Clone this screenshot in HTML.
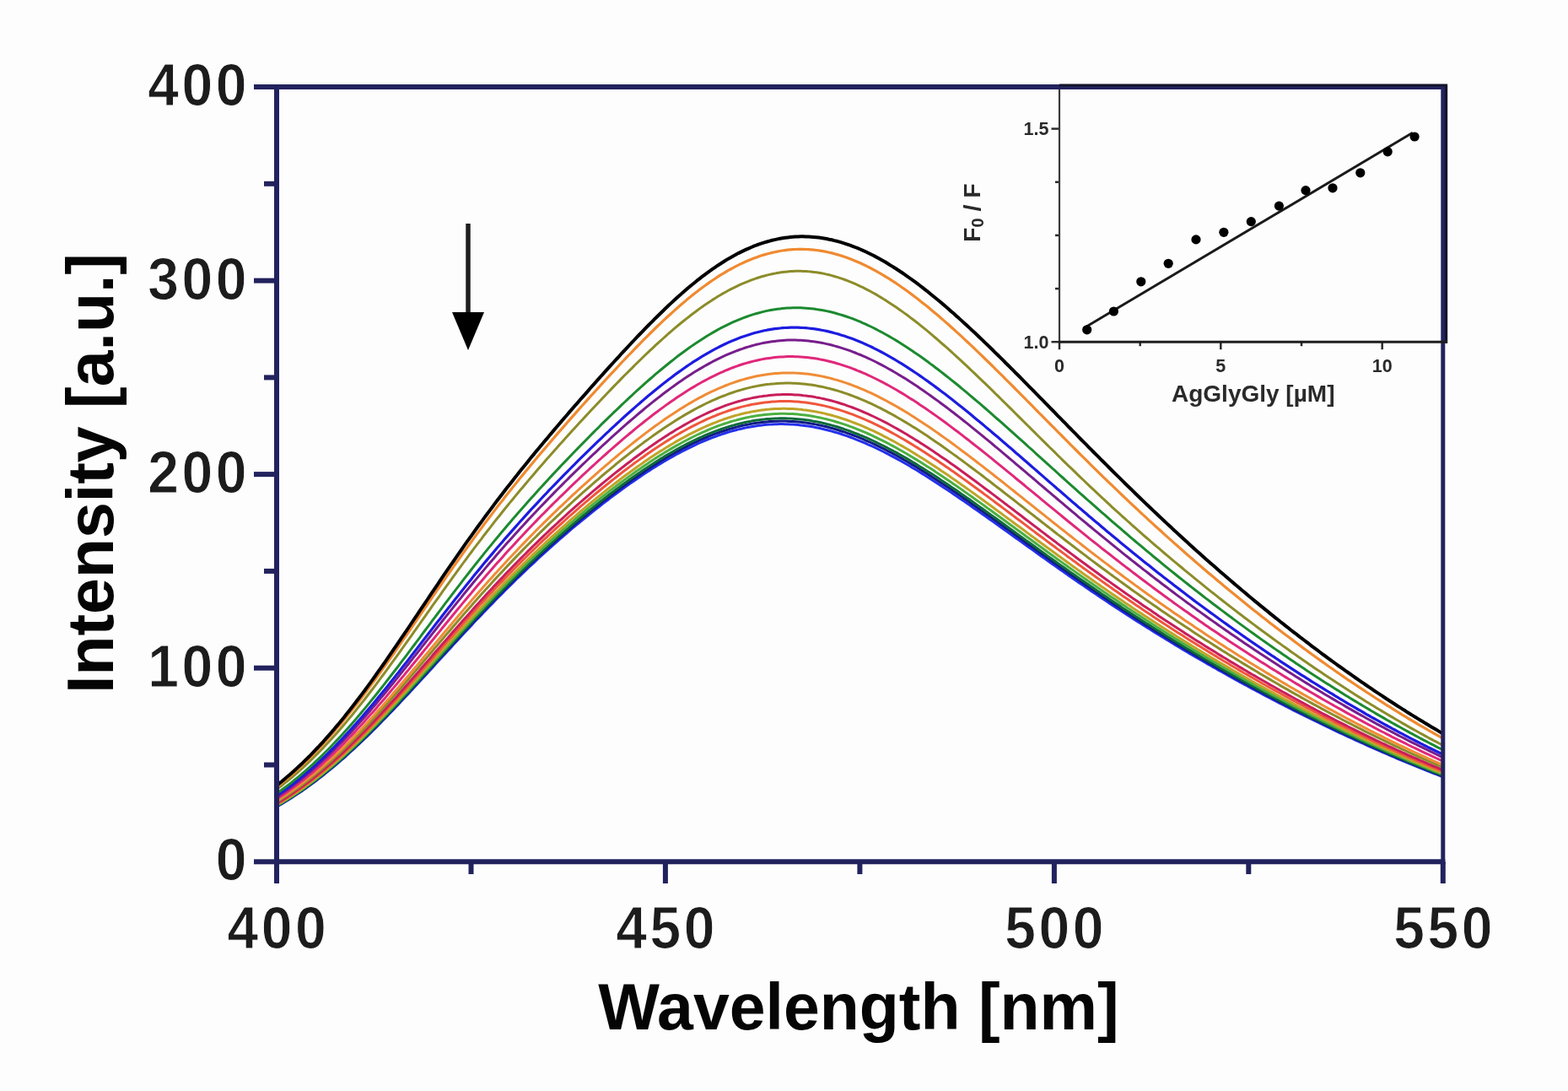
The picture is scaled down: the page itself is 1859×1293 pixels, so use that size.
<!DOCTYPE html>
<html><head><meta charset="utf-8"><title>Fluorescence quenching spectra</title>
<style>html,body{margin:0;padding:0;background:#fff;overflow:hidden}svg{display:block}</style>
</head><body>
<svg width="1859" height="1293" viewBox="0 0 1859 1293">
<rect width="1859" height="1293" fill="#fdfdfd"/>
<defs><clipPath id="c"><rect x="328.0" y="103.0" width="1382.8" height="918.3"/></clipPath></defs>
<g clip-path="url(#c)"><polyline points="328.0,956.2 331.1,954.4 334.2,952.6 337.2,950.8 340.3,948.9 343.4,947.0 346.5,945.1 349.5,943.1 352.6,941.0 355.7,939.0 358.8,936.9 361.8,934.7 364.9,932.5 368.0,930.3 371.1,928.1 374.1,925.8 377.2,923.4 380.3,921.1 383.4,918.6 386.4,916.2 389.5,913.7 392.6,911.2 395.7,908.6 398.7,906.0 401.8,903.4 404.9,900.7 408.0,898.0 411.0,895.3 414.1,892.5 417.2,889.7 420.3,886.9 423.3,884.0 426.4,881.1 429.5,878.2 432.6,875.2 435.6,872.3 438.7,869.3 441.8,866.2 444.9,863.2 447.9,860.1 451.0,857.0 454.1,853.8 457.2,850.7 460.2,847.5 463.3,844.3 466.4,841.1 469.5,837.8 472.6,834.6 475.6,831.3 478.7,828.0 481.8,824.8 484.9,821.5 487.9,818.1 491.0,814.8 494.1,811.5 497.2,808.1 500.2,804.8 503.3,801.4 506.4,798.1 509.5,794.7 512.5,791.4 515.6,788.0 518.7,784.6 521.8,781.3 524.8,777.9 527.9,774.6 531.0,771.2 534.1,767.9 537.1,764.5 540.2,761.2 543.3,757.9 546.4,754.5 549.4,751.2 552.5,747.9 555.6,744.6 558.7,741.4 561.7,738.1 564.8,734.8 567.9,731.6 571.0,728.4 574.0,725.1 577.1,721.9 580.2,718.8 583.3,715.6 586.3,712.4 589.4,709.3 592.5,706.2 595.6,703.1 598.6,700.0 601.7,696.9 604.8,693.9 607.9,690.9 611.0,687.8 614.0,684.8 617.1,681.9 620.2,678.9 623.3,676.0 626.3,673.0 629.4,670.1 632.5,667.3 635.6,664.4 638.6,661.5 641.7,658.7 644.8,655.9 647.9,653.1 650.9,650.3 654.0,647.6 657.1,644.9 660.2,642.1 663.2,639.4 666.3,636.8 669.4,634.1 672.5,631.5 675.5,628.8 678.6,626.2 681.7,623.6 684.8,621.1 687.8,618.5 690.9,616.0 694.0,613.5 697.1,611.0 700.1,608.5 703.2,606.0 706.3,603.6 709.4,601.2 712.4,598.8 715.5,596.4 718.6,594.0 721.7,591.7 724.7,589.3 727.8,587.0 730.9,584.7 734.0,582.5 737.0,580.2 740.1,578.0 743.2,575.8 746.3,573.6 749.4,571.5 752.4,569.4 755.5,567.2 758.6,565.2 761.7,563.1 764.7,561.1 767.8,559.0 770.9,557.1 774.0,555.1 777.0,553.2 780.1,551.3 783.2,549.4 786.3,547.5 789.3,545.7 792.4,543.9 795.5,542.2 798.6,540.4 801.6,538.7 804.7,537.1 807.8,535.4 810.9,533.8 813.9,532.3 817.0,530.8 820.1,529.3 823.2,527.8 826.2,526.4 829.3,525.0 832.4,523.6 835.5,522.3 838.5,521.0 841.6,519.8 844.7,518.6 847.8,517.5 850.8,516.3 853.9,515.3 857.0,514.2 860.1,513.2 863.1,512.3 866.2,511.4 869.3,510.5 872.4,509.7 875.4,508.9 878.5,508.2 881.6,507.5 884.7,506.9 887.8,506.3 890.8,505.7 893.9,505.2 897.0,504.7 900.1,504.3 903.1,503.9 906.2,503.6 909.3,503.3 912.4,503.1 915.4,502.9 918.5,502.8 921.6,502.7 924.7,502.6 927.7,502.6 930.8,502.7 933.9,502.8 937.0,502.9 940.0,503.1 943.1,503.3 946.2,503.6 949.3,503.9 952.3,504.3 955.4,504.7 958.5,505.1 961.6,505.6 964.6,506.1 967.7,506.7 970.8,507.3 973.9,508.0 976.9,508.7 980.0,509.5 983.1,510.3 986.2,511.1 989.2,512.0 992.3,512.9 995.4,513.8 998.5,514.8 1001.5,515.9 1004.6,516.9 1007.7,518.0 1010.8,519.2 1013.8,520.3 1016.9,521.6 1020.0,522.8 1023.1,524.1 1026.2,525.4 1029.2,526.8 1032.3,528.1 1035.4,529.5 1038.5,531.0 1041.5,532.5 1044.6,534.0 1047.7,535.5 1050.8,537.1 1053.8,538.7 1056.9,540.3 1060.0,541.9 1063.1,543.6 1066.1,545.3 1069.2,547.0 1072.3,548.8 1075.4,550.5 1078.4,552.3 1081.5,554.2 1084.6,556.0 1087.7,557.8 1090.7,559.7 1093.8,561.6 1096.9,563.5 1100.0,565.5 1103.0,567.4 1106.1,569.4 1109.2,571.4 1112.3,573.4 1115.3,575.4 1118.4,577.4 1121.5,579.5 1124.6,581.5 1127.6,583.6 1130.7,585.7 1133.8,587.8 1136.9,589.9 1139.9,592.0 1143.0,594.1 1146.1,596.2 1149.2,598.4 1152.2,600.5 1155.3,602.7 1158.4,604.8 1161.5,607.0 1164.6,609.2 1167.6,611.3 1170.7,613.5 1173.8,615.7 1176.9,617.9 1179.9,620.1 1183.0,622.3 1186.1,624.5 1189.2,626.7 1192.2,628.9 1195.3,631.1 1198.4,633.3 1201.5,635.5 1204.5,637.7 1207.6,639.9 1210.7,642.1 1213.8,644.3 1216.8,646.5 1219.9,648.7 1223.0,650.9 1226.1,653.1 1229.1,655.3 1232.2,657.5 1235.3,659.7 1238.4,661.9 1241.4,664.1 1244.5,666.3 1247.6,668.4 1250.7,670.6 1253.7,672.8 1256.8,674.9 1259.9,677.1 1263.0,679.2 1266.0,681.4 1269.1,683.5 1272.2,685.7 1275.3,687.8 1278.3,689.9 1281.4,692.0 1284.5,694.1 1287.6,696.2 1290.6,698.3 1293.7,700.4 1296.8,702.5 1299.9,704.6 1303.0,706.7 1306.0,708.7 1309.1,710.8 1312.2,712.8 1315.3,714.9 1318.3,716.9 1321.4,718.9 1324.5,721.0 1327.6,723.0 1330.6,725.0 1333.7,727.0 1336.8,729.0 1339.9,731.0 1342.9,732.9 1346.0,734.9 1349.1,736.9 1352.2,738.8 1355.2,740.8 1358.3,742.7 1361.4,744.6 1364.5,746.6 1367.5,748.5 1370.6,750.4 1373.7,752.3 1376.8,754.2 1379.8,756.1 1382.9,758.0 1386.0,759.8 1389.1,761.7 1392.1,763.6 1395.2,765.4 1398.3,767.2 1401.4,769.1 1404.4,770.9 1407.5,772.7 1410.6,774.6 1413.7,776.4 1416.7,778.2 1419.8,780.0 1422.9,781.7 1426.0,783.5 1429.0,785.3 1432.1,787.1 1435.2,788.8 1438.3,790.6 1441.4,792.3 1444.4,794.1 1447.5,795.8 1450.6,797.5 1453.7,799.2 1456.7,801.0 1459.8,802.7 1462.9,804.4 1466.0,806.1 1469.0,807.8 1472.1,809.4 1475.2,811.1 1478.3,812.8 1481.3,814.4 1484.4,816.1 1487.5,817.7 1490.6,819.4 1493.6,821.0 1496.7,822.7 1499.8,824.3 1502.9,825.9 1505.9,827.5 1509.0,829.1 1512.1,830.7 1515.2,832.3 1518.2,833.9 1521.3,835.5 1524.4,837.1 1527.5,838.6 1530.5,840.2 1533.6,841.8 1536.7,843.3 1539.8,844.9 1542.8,846.4 1545.9,847.9 1549.0,849.5 1552.1,851.0 1555.1,852.5 1558.2,854.0 1561.3,855.5 1564.4,857.0 1567.4,858.5 1570.5,860.0 1573.6,861.5 1576.7,862.9 1579.8,864.4 1582.8,865.9 1585.9,867.3 1589.0,868.8 1592.1,870.2 1595.1,871.7 1598.2,873.1 1601.3,874.5 1604.4,875.9 1607.4,877.3 1610.5,878.7 1613.6,880.1 1616.7,881.5 1619.7,882.9 1622.8,884.3 1625.9,885.7 1629.0,887.0 1632.0,888.4 1635.1,889.7 1638.2,891.1 1641.3,892.4 1644.3,893.7 1647.4,895.1 1650.5,896.4 1653.6,897.7 1656.6,899.0 1659.7,900.3 1662.8,901.6 1665.9,902.8 1668.9,904.1 1672.0,905.4 1675.1,906.6 1678.2,907.9 1681.2,909.1 1684.3,910.4 1687.4,911.6 1690.5,912.8 1693.5,914.1 1696.6,915.3 1699.7,916.5 1702.8,917.7 1705.8,918.8 1708.9,920.0 1712.0,921.2" fill="none" stroke="#2430ec" stroke-width="3.0" stroke-linejoin="round"/><polyline points="328.0,955.8 331.1,954.0 334.2,952.2 337.2,950.4 340.3,948.5 343.4,946.6 346.5,944.6 349.5,942.6 352.6,940.6 355.7,938.5 358.8,936.4 361.8,934.2 364.9,932.0 368.0,929.8 371.1,927.5 374.1,925.2 377.2,922.8 380.3,920.4 383.4,918.0 386.4,915.5 389.5,913.0 392.6,910.5 395.7,907.9 398.7,905.3 401.8,902.7 404.9,900.0 408.0,897.3 411.0,894.5 414.1,891.7 417.2,888.9 420.3,886.0 423.3,883.2 426.4,880.2 429.5,877.3 432.6,874.3 435.6,871.3 438.7,868.3 441.8,865.2 444.9,862.2 447.9,859.0 451.0,855.9 454.1,852.8 457.2,849.6 460.2,846.4 463.3,843.2 466.4,839.9 469.5,836.7 472.6,833.4 475.6,830.1 478.7,826.8 481.8,823.5 484.9,820.2 487.9,816.9 491.0,813.5 494.1,810.2 497.2,806.8 500.2,803.4 503.3,800.1 506.4,796.7 509.5,793.3 512.5,789.9 515.6,786.5 518.7,783.2 521.8,779.8 524.8,776.4 527.9,773.0 531.0,769.7 534.1,766.3 537.1,762.9 540.2,759.6 543.3,756.2 546.4,752.9 549.4,749.6 552.5,746.3 555.6,742.9 558.7,739.7 561.7,736.4 564.8,733.1 567.9,729.8 571.0,726.6 574.0,723.4 577.1,720.2 580.2,717.0 583.3,713.8 586.3,710.6 589.4,707.5 592.5,704.3 595.6,701.2 598.6,698.1 601.7,695.0 604.8,692.0 607.9,688.9 611.0,685.9 614.0,682.9 617.1,679.9 620.2,676.9 623.3,674.0 626.3,671.0 629.4,668.1 632.5,665.2 635.6,662.3 638.6,659.5 641.7,656.6 644.8,653.8 647.9,651.0 650.9,648.2 654.0,645.4 657.1,642.7 660.2,640.0 663.2,637.2 666.3,634.6 669.4,631.9 672.5,629.2 675.5,626.6 678.6,624.0 681.7,621.3 684.8,618.8 687.8,616.2 690.9,613.6 694.0,611.1 697.1,608.6 700.1,606.1 703.2,603.6 706.3,601.2 709.4,598.7 712.4,596.3 715.5,593.9 718.6,591.5 721.7,589.2 724.7,586.8 727.8,584.5 730.9,582.2 734.0,579.9 737.0,577.7 740.1,575.4 743.2,573.2 746.3,571.0 749.4,568.8 752.4,566.7 755.5,564.6 758.6,562.5 761.7,560.4 764.7,558.3 767.8,556.3 770.9,554.3 774.0,552.3 777.0,550.4 780.1,548.4 783.2,546.5 786.3,544.7 789.3,542.8 792.4,541.0 795.5,539.2 798.6,537.5 801.6,535.8 804.7,534.1 807.8,532.5 810.9,530.8 813.9,529.3 817.0,527.7 820.1,526.2 823.2,524.7 826.2,523.3 829.3,521.9 832.4,520.5 835.5,519.2 838.5,517.9 841.6,516.6 844.7,515.4 847.8,514.2 850.8,513.1 853.9,512.0 857.0,511.0 860.1,510.0 863.1,509.0 866.2,508.1 869.3,507.2 872.4,506.4 875.4,505.6 878.5,504.8 881.6,504.1 884.7,503.5 887.8,502.9 890.8,502.3 893.9,501.8 897.0,501.3 900.1,500.9 903.1,500.5 906.2,500.2 909.3,499.9 912.4,499.6 915.4,499.4 918.5,499.3 921.6,499.2 924.7,499.1 927.7,499.1 930.8,499.1 933.9,499.2 937.0,499.4 940.0,499.5 943.1,499.7 946.2,500.0 949.3,500.3 952.3,500.7 955.4,501.1 958.5,501.5 961.6,502.0 964.6,502.5 967.7,503.1 970.8,503.7 973.9,504.4 976.9,505.1 980.0,505.8 983.1,506.6 986.2,507.5 989.2,508.3 992.3,509.2 995.4,510.2 998.5,511.2 1001.5,512.2 1004.6,513.3 1007.7,514.4 1010.8,515.5 1013.8,516.7 1016.9,517.9 1020.0,519.2 1023.1,520.4 1026.2,521.8 1029.2,523.1 1032.3,524.5 1035.4,525.9 1038.5,527.4 1041.5,528.8 1044.6,530.4 1047.7,531.9 1050.8,533.5 1053.8,535.1 1056.9,536.7 1060.0,538.3 1063.1,540.0 1066.1,541.7 1069.2,543.4 1072.3,545.2 1075.4,547.0 1078.4,548.8 1081.5,550.6 1084.6,552.4 1087.7,554.3 1090.7,556.2 1093.8,558.1 1096.9,560.0 1100.0,562.0 1103.0,563.9 1106.1,565.9 1109.2,567.9 1112.3,569.9 1115.3,571.9 1118.4,574.0 1121.5,576.0 1124.6,578.1 1127.6,580.1 1130.7,582.2 1133.8,584.3 1136.9,586.4 1139.9,588.6 1143.0,590.7 1146.1,592.8 1149.2,595.0 1152.2,597.2 1155.3,599.3 1158.4,601.5 1161.5,603.7 1164.6,605.9 1167.6,608.0 1170.7,610.2 1173.8,612.4 1176.9,614.6 1179.9,616.8 1183.0,619.1 1186.1,621.3 1189.2,623.5 1192.2,625.7 1195.3,627.9 1198.4,630.1 1201.5,632.4 1204.5,634.6 1207.6,636.8 1210.7,639.0 1213.8,641.2 1216.8,643.5 1219.9,645.7 1223.0,647.9 1226.1,650.1 1229.1,652.3 1232.2,654.5 1235.3,656.7 1238.4,658.9 1241.4,661.1 1244.5,663.3 1247.6,665.5 1250.7,667.7 1253.7,669.9 1256.8,672.1 1259.9,674.2 1263.0,676.4 1266.0,678.6 1269.1,680.7 1272.2,682.9 1275.3,685.0 1278.3,687.1 1281.4,689.3 1284.5,691.4 1287.6,693.5 1290.6,695.6 1293.7,697.7 1296.8,699.8 1299.9,701.9 1303.0,704.0 1306.0,706.1 1309.1,708.2 1312.2,710.2 1315.3,712.3 1318.3,714.4 1321.4,716.4 1324.5,718.4 1327.6,720.5 1330.6,722.5 1333.7,724.5 1336.8,726.5 1339.9,728.5 1342.9,730.5 1346.0,732.5 1349.1,734.5 1352.2,736.4 1355.2,738.4 1358.3,740.4 1361.4,742.3 1364.5,744.3 1367.5,746.2 1370.6,748.1 1373.7,750.0 1376.8,751.9 1379.8,753.8 1382.9,755.7 1386.0,757.6 1389.1,759.5 1392.1,761.4 1395.2,763.3 1398.3,765.1 1401.4,767.0 1404.4,768.8 1407.5,770.7 1410.6,772.5 1413.7,774.3 1416.7,776.1 1419.8,777.9 1422.9,779.7 1426.0,781.5 1429.0,783.3 1432.1,785.1 1435.2,786.9 1438.3,788.7 1441.4,790.4 1444.4,792.2 1447.5,793.9 1450.6,795.7 1453.7,797.4 1456.7,799.1 1459.8,800.8 1462.9,802.6 1466.0,804.3 1469.0,806.0 1472.1,807.7 1475.2,809.4 1478.3,811.0 1481.3,812.7 1484.4,814.4 1487.5,816.1 1490.6,817.7 1493.6,819.4 1496.7,821.0 1499.8,822.7 1502.9,824.3 1505.9,825.9 1509.0,827.5 1512.1,829.2 1515.2,830.8 1518.2,832.4 1521.3,834.0 1524.4,835.5 1527.5,837.1 1530.5,838.7 1533.6,840.3 1536.7,841.8 1539.8,843.4 1542.8,845.0 1545.9,846.5 1549.0,848.1 1552.1,849.6 1555.1,851.1 1558.2,852.6 1561.3,854.2 1564.4,855.7 1567.4,857.2 1570.5,858.7 1573.6,860.2 1576.7,861.6 1579.8,863.1 1582.8,864.6 1585.9,866.1 1589.0,867.5 1592.1,869.0 1595.1,870.4 1598.2,871.9 1601.3,873.3 1604.4,874.7 1607.4,876.1 1610.5,877.6 1613.6,879.0 1616.7,880.4 1619.7,881.8 1622.8,883.2 1625.9,884.5 1629.0,885.9 1632.0,887.3 1635.1,888.6 1638.2,890.0 1641.3,891.3 1644.3,892.7 1647.4,894.0 1650.5,895.3 1653.6,896.7 1656.6,898.0 1659.7,899.3 1662.8,900.6 1665.9,901.9 1668.9,903.2 1672.0,904.4 1675.1,905.7 1678.2,907.0 1681.2,908.2 1684.3,909.5 1687.4,910.7 1690.5,911.9 1693.5,913.2 1696.6,914.4 1699.7,915.6 1702.8,916.8 1705.8,918.0 1708.9,919.2 1712.0,920.4" fill="none" stroke="#101a88" stroke-width="3.0" stroke-linejoin="round"/><polyline points="328.0,955.4 331.1,953.6 334.2,951.8 337.2,950.0 340.3,948.1 343.4,946.1 346.5,944.1 349.5,942.1 352.6,940.1 355.7,938.0 358.8,935.9 361.8,933.7 364.9,931.5 368.0,929.2 371.1,926.9 374.1,924.6 377.2,922.3 380.3,919.9 383.4,917.4 386.4,914.9 389.5,912.4 392.6,909.9 395.7,907.3 398.7,904.6 401.8,902.0 404.9,899.3 408.0,896.5 411.0,893.8 414.1,891.0 417.2,888.1 420.3,885.3 423.3,882.4 426.4,879.4 429.5,876.5 432.6,873.5 435.6,870.4 438.7,867.4 441.8,864.3 444.9,861.2 447.9,858.1 451.0,854.9 454.1,851.8 457.2,848.6 460.2,845.4 463.3,842.1 466.4,838.9 469.5,835.6 472.6,832.3 475.6,829.0 478.7,825.7 481.8,822.4 484.9,819.0 487.9,815.7 491.0,812.3 494.1,808.9 497.2,805.6 500.2,802.2 503.3,798.8 506.4,795.4 509.5,792.0 512.5,788.6 515.6,785.2 518.7,781.8 521.8,778.4 524.8,775.0 527.9,771.6 531.0,768.2 534.1,764.8 537.1,761.5 540.2,758.1 543.3,754.7 546.4,751.4 549.4,748.0 552.5,744.7 555.6,741.4 558.7,738.1 561.7,734.8 564.8,731.5 567.9,728.2 571.0,724.9 574.0,721.7 577.1,718.5 580.2,715.3 583.3,712.1 586.3,708.9 589.4,705.7 592.5,702.6 595.6,699.4 598.6,696.3 601.7,693.2 604.8,690.1 607.9,687.1 611.0,684.0 614.0,681.0 617.1,678.0 620.2,675.0 623.3,672.1 626.3,669.1 629.4,666.2 632.5,663.3 635.6,660.4 638.6,657.5 641.7,654.7 644.8,651.8 647.9,649.0 650.9,646.2 654.0,643.4 657.1,640.7 660.2,637.9 663.2,635.2 666.3,632.5 669.4,629.8 672.5,627.1 675.5,624.5 678.6,621.8 681.7,619.2 684.8,616.6 687.8,614.0 690.9,611.5 694.0,608.9 697.1,606.4 700.1,603.9 703.2,601.4 706.3,598.9 709.4,596.5 712.4,594.0 715.5,591.6 718.6,589.2 721.7,586.8 724.7,584.5 727.8,582.1 730.9,579.8 734.0,577.5 737.0,575.2 740.1,573.0 743.2,570.7 746.3,568.5 749.4,566.3 752.4,564.2 755.5,562.0 758.6,559.9 761.7,557.8 764.7,555.7 767.8,553.7 770.9,551.7 774.0,549.7 777.0,547.7 780.1,545.8 783.2,543.9 786.3,542.0 789.3,540.1 792.4,538.3 795.5,536.5 798.6,534.7 801.6,533.0 804.7,531.3 807.8,529.6 810.9,528.0 813.9,526.4 817.0,524.8 820.1,523.3 823.2,521.8 826.2,520.4 829.3,518.9 832.4,517.6 835.5,516.2 838.5,514.9 841.6,513.6 844.7,512.4 847.8,511.2 850.8,510.1 853.9,509.0 857.0,507.9 860.1,506.9 863.1,505.9 866.2,505.0 869.3,504.1 872.4,503.3 875.4,502.5 878.5,501.7 881.6,501.0 884.7,500.3 887.8,499.7 890.8,499.1 893.9,498.6 897.0,498.1 900.1,497.7 903.1,497.3 906.2,496.9 909.3,496.6 912.4,496.4 915.4,496.2 918.5,496.0 921.6,495.9 924.7,495.8 927.7,495.8 930.8,495.8 933.9,495.9 937.0,496.0 940.0,496.2 943.1,496.4 946.2,496.7 949.3,497.0 952.3,497.3 955.4,497.7 958.5,498.1 961.6,498.6 964.6,499.2 967.7,499.7 970.8,500.3 973.9,501.0 976.9,501.7 980.0,502.5 983.1,503.2 986.2,504.1 989.2,504.9 992.3,505.8 995.4,506.8 998.5,507.8 1001.5,508.8 1004.6,509.9 1007.7,511.0 1010.8,512.1 1013.8,513.3 1016.9,514.5 1020.0,515.8 1023.1,517.0 1026.2,518.4 1029.2,519.7 1032.3,521.1 1035.4,522.5 1038.5,524.0 1041.5,525.5 1044.6,527.0 1047.7,528.5 1050.8,530.1 1053.8,531.7 1056.9,533.3 1060.0,535.0 1063.1,536.6 1066.1,538.4 1069.2,540.1 1072.3,541.8 1075.4,543.6 1078.4,545.4 1081.5,547.3 1084.6,549.1 1087.7,551.0 1090.7,552.9 1093.8,554.8 1096.9,556.7 1100.0,558.7 1103.0,560.6 1106.1,562.6 1109.2,564.6 1112.3,566.6 1115.3,568.7 1118.4,570.7 1121.5,572.8 1124.6,574.8 1127.6,576.9 1130.7,579.0 1133.8,581.1 1136.9,583.3 1139.9,585.4 1143.0,587.5 1146.1,589.7 1149.2,591.8 1152.2,594.0 1155.3,596.2 1158.4,598.4 1161.5,600.6 1164.6,602.8 1167.6,605.0 1170.7,607.2 1173.8,609.4 1176.9,611.6 1179.9,613.8 1183.0,616.0 1186.1,618.3 1189.2,620.5 1192.2,622.7 1195.3,625.0 1198.4,627.2 1201.5,629.4 1204.5,631.7 1207.6,633.9 1210.7,636.1 1213.8,638.4 1216.8,640.6 1219.9,642.8 1223.0,645.0 1226.1,647.3 1229.1,649.5 1232.2,651.7 1235.3,653.9 1238.4,656.1 1241.4,658.4 1244.5,660.6 1247.6,662.8 1250.7,665.0 1253.7,667.2 1256.8,669.4 1259.9,671.5 1263.0,673.7 1266.0,675.9 1269.1,678.1 1272.2,680.2 1275.3,682.4 1278.3,684.6 1281.4,686.7 1284.5,688.8 1287.6,691.0 1290.6,693.1 1293.7,695.2 1296.8,697.3 1299.9,699.5 1303.0,701.6 1306.0,703.7 1309.1,705.7 1312.2,707.8 1315.3,709.9 1318.3,712.0 1321.4,714.0 1324.5,716.1 1327.6,718.1 1330.6,720.2 1333.7,722.2 1336.8,724.2 1339.9,726.2 1342.9,728.2 1346.0,730.2 1349.1,732.2 1352.2,734.2 1355.2,736.2 1358.3,738.2 1361.4,740.1 1364.5,742.1 1367.5,744.0 1370.6,746.0 1373.7,747.9 1376.8,749.8 1379.8,751.8 1382.9,753.7 1386.0,755.6 1389.1,757.5 1392.1,759.4 1395.2,761.2 1398.3,763.1 1401.4,765.0 1404.4,766.8 1407.5,768.7 1410.6,770.5 1413.7,772.4 1416.7,774.2 1419.8,776.0 1422.9,777.9 1426.0,779.7 1429.0,781.5 1432.1,783.3 1435.2,785.1 1438.3,786.8 1441.4,788.6 1444.4,790.4 1447.5,792.2 1450.6,793.9 1453.7,795.7 1456.7,797.4 1459.8,799.1 1462.9,800.9 1466.0,802.6 1469.0,804.3 1472.1,806.0 1475.2,807.7 1478.3,809.4 1481.3,811.1 1484.4,812.8 1487.5,814.5 1490.6,816.1 1493.6,817.8 1496.7,819.5 1499.8,821.1 1502.9,822.8 1505.9,824.4 1509.0,826.0 1512.1,827.7 1515.2,829.3 1518.2,830.9 1521.3,832.5 1524.4,834.1 1527.5,835.7 1530.5,837.3 1533.6,838.9 1536.7,840.5 1539.8,842.0 1542.8,843.6 1545.9,845.2 1549.0,846.7 1552.1,848.3 1555.1,849.8 1558.2,851.3 1561.3,852.9 1564.4,854.4 1567.4,855.9 1570.5,857.4 1573.6,858.9 1576.7,860.4 1579.8,861.9 1582.8,863.4 1585.9,864.9 1589.0,866.3 1592.1,867.8 1595.1,869.3 1598.2,870.7 1601.3,872.2 1604.4,873.6 1607.4,875.0 1610.5,876.5 1613.6,877.9 1616.7,879.3 1619.7,880.7 1622.8,882.1 1625.9,883.5 1629.0,884.9 1632.0,886.3 1635.1,887.6 1638.2,889.0 1641.3,890.4 1644.3,891.7 1647.4,893.1 1650.5,894.4 1653.6,895.7 1656.6,897.0 1659.7,898.4 1662.8,899.7 1665.9,901.0 1668.9,902.3 1672.0,903.6 1675.1,904.8 1678.2,906.1 1681.2,907.4 1684.3,908.6 1687.4,909.9 1690.5,911.1 1693.5,912.4 1696.6,913.6 1699.7,914.8 1702.8,916.0 1705.8,917.2 1708.9,918.4 1712.0,919.6" fill="none" stroke="#0e6a3a" stroke-width="3.0" stroke-linejoin="round"/><polyline points="328.0,954.8 331.1,953.0 334.2,951.1 337.2,949.3 340.3,947.4 343.4,945.4 346.5,943.4 349.5,941.4 352.6,939.3 355.7,937.2 358.8,935.0 361.8,932.9 364.9,930.6 368.0,928.4 371.1,926.0 374.1,923.7 377.2,921.3 380.3,918.9 383.4,916.4 386.4,913.9 389.5,911.4 392.6,908.8 395.7,906.2 398.7,903.5 401.8,900.8 404.9,898.1 408.0,895.3 411.0,892.5 414.1,889.7 417.2,886.8 420.3,883.9 423.3,881.0 426.4,878.1 429.5,875.1 432.6,872.0 435.6,869.0 438.7,865.9 441.8,862.8 444.9,859.7 447.9,856.5 451.0,853.3 454.1,850.1 457.2,846.9 460.2,843.7 463.3,840.4 466.4,837.1 469.5,833.8 472.6,830.5 475.6,827.1 478.7,823.8 481.8,820.4 484.9,817.1 487.9,813.7 491.0,810.3 494.1,806.9 497.2,803.5 500.2,800.1 503.3,796.6 506.4,793.2 509.5,789.8 512.5,786.4 515.6,782.9 518.7,779.5 521.8,776.1 524.8,772.6 527.9,769.2 531.0,765.8 534.1,762.4 537.1,759.0 540.2,755.6 543.3,752.2 546.4,748.8 549.4,745.4 552.5,742.1 555.6,738.7 558.7,735.4 561.7,732.1 564.8,728.8 567.9,725.5 571.0,722.2 574.0,718.9 577.1,715.7 580.2,712.4 583.3,709.2 586.3,706.0 589.4,702.8 592.5,699.6 595.6,696.5 598.6,693.4 601.7,690.2 604.8,687.1 607.9,684.1 611.0,681.0 614.0,677.9 617.1,674.9 620.2,671.9 623.3,668.9 626.3,666.0 629.4,663.0 632.5,660.1 635.6,657.2 638.6,654.3 641.7,651.4 644.8,648.5 647.9,645.7 650.9,642.9 654.0,640.1 657.1,637.3 660.2,634.5 663.2,631.8 666.3,629.0 669.4,626.3 672.5,623.6 675.5,620.9 678.6,618.3 681.7,615.6 684.8,613.0 687.8,610.4 690.9,607.8 694.0,605.2 697.1,602.7 700.1,600.2 703.2,597.6 706.3,595.1 709.4,592.7 712.4,590.2 715.5,587.8 718.6,585.3 721.7,582.9 724.7,580.5 727.8,578.2 730.9,575.8 734.0,573.5 737.0,571.2 740.1,568.9 743.2,566.7 746.3,564.4 749.4,562.2 752.4,560.0 755.5,557.8 758.6,555.7 761.7,553.6 764.7,551.5 767.8,549.4 770.9,547.3 774.0,545.3 777.0,543.3 780.1,541.3 783.2,539.4 786.3,537.5 789.3,535.6 792.4,533.8 795.5,531.9 798.6,530.1 801.6,528.4 804.7,526.7 807.8,525.0 810.9,523.3 813.9,521.7 817.0,520.1 820.1,518.5 823.2,517.0 826.2,515.5 829.3,514.1 832.4,512.7 835.5,511.3 838.5,510.0 841.6,508.7 844.7,507.4 847.8,506.2 850.8,505.0 853.9,503.9 857.0,502.8 860.1,501.8 863.1,500.8 866.2,499.8 869.3,498.9 872.4,498.1 875.4,497.2 878.5,496.5 881.6,495.7 884.7,495.0 887.8,494.4 890.8,493.8 893.9,493.2 897.0,492.7 900.1,492.3 903.1,491.9 906.2,491.5 909.3,491.2 912.4,490.9 915.4,490.7 918.5,490.5 921.6,490.4 924.7,490.3 927.7,490.3 930.8,490.3 933.9,490.4 937.0,490.5 940.0,490.6 943.1,490.8 946.2,491.1 949.3,491.4 952.3,491.7 955.4,492.1 958.5,492.5 961.6,493.0 964.6,493.5 967.7,494.1 970.8,494.7 973.9,495.4 976.9,496.1 980.0,496.8 983.1,497.6 986.2,498.4 989.2,499.3 992.3,500.2 995.4,501.1 998.5,502.1 1001.5,503.1 1004.6,504.2 1007.7,505.3 1010.8,506.4 1013.8,507.6 1016.9,508.8 1020.0,510.1 1023.1,511.4 1026.2,512.7 1029.2,514.0 1032.3,515.4 1035.4,516.9 1038.5,518.3 1041.5,519.8 1044.6,521.3 1047.7,522.9 1050.8,524.4 1053.8,526.0 1056.9,527.7 1060.0,529.3 1063.1,531.0 1066.1,532.7 1069.2,534.5 1072.3,536.3 1075.4,538.0 1078.4,539.9 1081.5,541.7 1084.6,543.6 1087.7,545.4 1090.7,547.3 1093.8,549.3 1096.9,551.2 1100.0,553.2 1103.0,555.1 1106.1,557.1 1109.2,559.2 1112.3,561.2 1115.3,563.2 1118.4,565.3 1121.5,567.4 1124.6,569.5 1127.6,571.6 1130.7,573.7 1133.8,575.8 1136.9,577.9 1139.9,580.1 1143.0,582.2 1146.1,584.4 1149.2,586.6 1152.2,588.8 1155.3,591.0 1158.4,593.2 1161.5,595.4 1164.6,597.6 1167.6,599.8 1170.7,602.1 1173.8,604.3 1176.9,606.5 1179.9,608.8 1183.0,611.0 1186.1,613.2 1189.2,615.5 1192.2,617.7 1195.3,620.0 1198.4,622.3 1201.5,624.5 1204.5,626.8 1207.6,629.0 1210.7,631.3 1213.8,633.5 1216.8,635.8 1219.9,638.0 1223.0,640.3 1226.1,642.5 1229.1,644.8 1232.2,647.0 1235.3,649.3 1238.4,651.5 1241.4,653.8 1244.5,656.0 1247.6,658.2 1250.7,660.4 1253.7,662.7 1256.8,664.9 1259.9,667.1 1263.0,669.3 1266.0,671.5 1269.1,673.7 1272.2,675.9 1275.3,678.1 1278.3,680.2 1281.4,682.4 1284.5,684.6 1287.6,686.7 1290.6,688.9 1293.7,691.0 1296.8,693.2 1299.9,695.3 1303.0,697.4 1306.0,699.6 1309.1,701.7 1312.2,703.8 1315.3,705.9 1318.3,708.0 1321.4,710.1 1324.5,712.1 1327.6,714.2 1330.6,716.3 1333.7,718.3 1336.8,720.4 1339.9,722.4 1342.9,724.5 1346.0,726.5 1349.1,728.5 1352.2,730.5 1355.2,732.5 1358.3,734.5 1361.4,736.5 1364.5,738.5 1367.5,740.5 1370.6,742.4 1373.7,744.4 1376.8,746.3 1379.8,748.3 1382.9,750.2 1386.0,752.2 1389.1,754.1 1392.1,756.0 1395.2,757.9 1398.3,759.8 1401.4,761.7 1404.4,763.6 1407.5,765.4 1410.6,767.3 1413.7,769.2 1416.7,771.0 1419.8,772.9 1422.9,774.7 1426.0,776.6 1429.0,778.4 1432.1,780.2 1435.2,782.0 1438.3,783.8 1441.4,785.6 1444.4,787.4 1447.5,789.2 1450.6,791.0 1453.7,792.8 1456.7,794.5 1459.8,796.3 1462.9,798.0 1466.0,799.8 1469.0,801.5 1472.1,803.3 1475.2,805.0 1478.3,806.7 1481.3,808.4 1484.4,810.1 1487.5,811.8 1490.6,813.5 1493.6,815.2 1496.7,816.9 1499.8,818.6 1502.9,820.2 1505.9,821.9 1509.0,823.6 1512.1,825.2 1515.2,826.8 1518.2,828.5 1521.3,830.1 1524.4,831.7 1527.5,833.4 1530.5,835.0 1533.6,836.6 1536.7,838.2 1539.8,839.8 1542.8,841.4 1545.9,842.9 1549.0,844.5 1552.1,846.1 1555.1,847.6 1558.2,849.2 1561.3,850.7 1564.4,852.3 1567.4,853.8 1570.5,855.3 1573.6,856.9 1576.7,858.4 1579.8,859.9 1582.8,861.4 1585.9,862.9 1589.0,864.4 1592.1,865.9 1595.1,867.4 1598.2,868.8 1601.3,870.3 1604.4,871.7 1607.4,873.2 1610.5,874.6 1613.6,876.1 1616.7,877.5 1619.7,878.9 1622.8,880.4 1625.9,881.8 1629.0,883.2 1632.0,884.6 1635.1,886.0 1638.2,887.3 1641.3,888.7 1644.3,890.1 1647.4,891.4 1650.5,892.8 1653.6,894.1 1656.6,895.5 1659.7,896.8 1662.8,898.1 1665.9,899.5 1668.9,900.8 1672.0,902.1 1675.1,903.4 1678.2,904.7 1681.2,905.9 1684.3,907.2 1687.4,908.5 1690.5,909.7 1693.5,911.0 1696.6,912.2 1699.7,913.5 1702.8,914.7 1705.8,915.9 1708.9,917.1 1712.0,918.3" fill="none" stroke="#4cb040" stroke-width="3.0" stroke-linejoin="round"/><polyline points="328.0,954.1 331.1,952.3 334.2,950.4 337.2,948.5 340.3,946.6 343.4,944.6 346.5,942.6 349.5,940.6 352.6,938.5 355.7,936.3 358.8,934.2 361.8,931.9 364.9,929.7 368.0,927.4 371.1,925.1 374.1,922.7 377.2,920.3 380.3,917.8 383.4,915.3 386.4,912.8 389.5,910.2 392.6,907.6 395.7,905.0 398.7,902.3 401.8,899.6 404.9,896.8 408.0,894.0 411.0,891.2 414.1,888.3 417.2,885.5 420.3,882.5 423.3,879.6 426.4,876.6 429.5,873.5 432.6,870.5 435.6,867.4 438.7,864.3 441.8,861.2 444.9,858.0 447.9,854.8 451.0,851.6 454.1,848.4 457.2,845.1 460.2,841.8 463.3,838.5 466.4,835.2 469.5,831.9 472.6,828.5 475.6,825.1 478.7,821.7 481.8,818.4 484.9,814.9 487.9,811.5 491.0,808.1 494.1,804.7 497.2,801.2 500.2,797.8 503.3,794.3 506.4,790.9 509.5,787.4 512.5,783.9 515.6,780.5 518.7,777.0 521.8,773.6 524.8,770.1 527.9,766.6 531.0,763.2 534.1,759.8 537.1,756.3 540.2,752.9 543.3,749.5 546.4,746.1 549.4,742.7 552.5,739.3 555.6,735.9 558.7,732.5 561.7,729.2 564.8,725.8 567.9,722.5 571.0,719.2 574.0,715.9 577.1,712.6 580.2,709.4 583.3,706.1 586.3,702.9 589.4,699.7 592.5,696.5 595.6,693.3 598.6,690.1 601.7,687.0 604.8,683.9 607.9,680.8 611.0,677.7 614.0,674.6 617.1,671.6 620.2,668.5 623.3,665.5 626.3,662.5 629.4,659.6 632.5,656.6 635.6,653.7 638.6,650.7 641.7,647.8 644.8,645.0 647.9,642.1 650.9,639.3 654.0,636.4 657.1,633.6 660.2,630.8 663.2,628.1 666.3,625.3 669.4,622.6 672.5,619.8 675.5,617.1 678.6,614.4 681.7,611.8 684.8,609.1 687.8,606.5 690.9,603.9 694.0,601.3 697.1,598.7 700.1,596.1 703.2,593.6 706.3,591.1 709.4,588.6 712.4,586.1 715.5,583.6 718.6,581.2 721.7,578.7 724.7,576.3 727.8,573.9 730.9,571.5 734.0,569.2 737.0,566.8 740.1,564.5 743.2,562.2 746.3,560.0 749.4,557.7 752.4,555.5 755.5,553.3 758.6,551.1 761.7,549.0 764.7,546.8 767.8,544.7 770.9,542.6 774.0,540.6 777.0,538.6 780.1,536.6 783.2,534.6 786.3,532.7 789.3,530.7 792.4,528.9 795.5,527.0 798.6,525.2 801.6,523.4 804.7,521.6 807.8,519.9 810.9,518.2 813.9,516.6 817.0,514.9 820.1,513.4 823.2,511.8 826.2,510.3 829.3,508.8 832.4,507.4 835.5,506.0 838.5,504.6 841.6,503.3 844.7,502.0 847.8,500.8 850.8,499.6 853.9,498.4 857.0,497.3 860.1,496.3 863.1,495.2 866.2,494.3 869.3,493.3 872.4,492.4 875.4,491.6 878.5,490.8 881.6,490.0 884.7,489.3 887.8,488.7 890.8,488.0 893.9,487.5 897.0,487.0 900.1,486.5 903.1,486.1 906.2,485.7 909.3,485.3 912.4,485.1 915.4,484.8 918.5,484.6 921.6,484.5 924.7,484.4 927.7,484.3 930.8,484.3 933.9,484.4 937.0,484.5 940.0,484.6 943.1,484.8 946.2,485.1 949.3,485.3 952.3,485.7 955.4,486.0 958.5,486.5 961.6,486.9 964.6,487.4 967.7,488.0 970.8,488.6 973.9,489.3 976.9,489.9 980.0,490.7 983.1,491.5 986.2,492.3 989.2,493.1 992.3,494.0 995.4,495.0 998.5,496.0 1001.5,497.0 1004.6,498.0 1007.7,499.2 1010.8,500.3 1013.8,501.5 1016.9,502.7 1020.0,503.9 1023.1,505.2 1026.2,506.6 1029.2,507.9 1032.3,509.3 1035.4,510.7 1038.5,512.2 1041.5,513.7 1044.6,515.2 1047.7,516.8 1050.8,518.3 1053.8,520.0 1056.9,521.6 1060.0,523.3 1063.1,525.0 1066.1,526.7 1069.2,528.4 1072.3,530.2 1075.4,532.0 1078.4,533.8 1081.5,535.7 1084.6,537.6 1087.7,539.5 1090.7,541.4 1093.8,543.3 1096.9,545.3 1100.0,547.2 1103.0,549.2 1106.1,551.2 1109.2,553.3 1112.3,555.3 1115.3,557.4 1118.4,559.4 1121.5,561.5 1124.6,563.6 1127.6,565.8 1130.7,567.9 1133.8,570.0 1136.9,572.2 1139.9,574.4 1143.0,576.5 1146.1,578.7 1149.2,580.9 1152.2,583.1 1155.3,585.3 1158.4,587.6 1161.5,589.8 1164.6,592.0 1167.6,594.3 1170.7,596.5 1173.8,598.8 1176.9,601.0 1179.9,603.3 1183.0,605.6 1186.1,607.8 1189.2,610.1 1192.2,612.4 1195.3,614.7 1198.4,616.9 1201.5,619.2 1204.5,621.5 1207.6,623.8 1210.7,626.0 1213.8,628.3 1216.8,630.6 1219.9,632.9 1223.0,635.2 1226.1,637.4 1229.1,639.7 1232.2,642.0 1235.3,644.2 1238.4,646.5 1241.4,648.8 1244.5,651.0 1247.6,653.3 1250.7,655.5 1253.7,657.8 1256.8,660.0 1259.9,662.3 1263.0,664.5 1266.0,666.7 1269.1,668.9 1272.2,671.2 1275.3,673.4 1278.3,675.6 1281.4,677.8 1284.5,680.0 1287.6,682.2 1290.6,684.3 1293.7,686.5 1296.8,688.7 1299.9,690.9 1303.0,693.0 1306.0,695.2 1309.1,697.3 1312.2,699.4 1315.3,701.6 1318.3,703.7 1321.4,705.8 1324.5,707.9 1327.6,710.0 1330.6,712.1 1333.7,714.2 1336.8,716.2 1339.9,718.3 1342.9,720.4 1346.0,722.4 1349.1,724.5 1352.2,726.5 1355.2,728.6 1358.3,730.6 1361.4,732.6 1364.5,734.6 1367.5,736.6 1370.6,738.6 1373.7,740.6 1376.8,742.6 1379.8,744.5 1382.9,746.5 1386.0,748.5 1389.1,750.4 1392.1,752.3 1395.2,754.3 1398.3,756.2 1401.4,758.1 1404.4,760.0 1407.5,761.9 1410.6,763.8 1413.7,765.7 1416.7,767.6 1419.8,769.5 1422.9,771.3 1426.0,773.2 1429.0,775.1 1432.1,776.9 1435.2,778.7 1438.3,780.6 1441.4,782.4 1444.4,784.2 1447.5,786.0 1450.6,787.8 1453.7,789.6 1456.7,791.4 1459.8,793.2 1462.9,795.0 1466.0,796.8 1469.0,798.5 1472.1,800.3 1475.2,802.0 1478.3,803.8 1481.3,805.5 1484.4,807.3 1487.5,809.0 1490.6,810.7 1493.6,812.4 1496.7,814.1 1499.8,815.8 1502.9,817.5 1505.9,819.2 1509.0,820.9 1512.1,822.5 1515.2,824.2 1518.2,825.9 1521.3,827.5 1524.4,829.2 1527.5,830.8 1530.5,832.4 1533.6,834.1 1536.7,835.7 1539.8,837.3 1542.8,838.9 1545.9,840.5 1549.0,842.1 1552.1,843.7 1555.1,845.3 1558.2,846.9 1561.3,848.4 1564.4,850.0 1567.4,851.6 1570.5,853.1 1573.6,854.7 1576.7,856.2 1579.8,857.7 1582.8,859.2 1585.9,860.8 1589.0,862.3 1592.1,863.8 1595.1,865.3 1598.2,866.8 1601.3,868.3 1604.4,869.7 1607.4,871.2 1610.5,872.7 1613.6,874.1 1616.7,875.6 1619.7,877.0 1622.8,878.5 1625.9,879.9 1629.0,881.3 1632.0,882.7 1635.1,884.1 1638.2,885.5 1641.3,886.9 1644.3,888.3 1647.4,889.7 1650.5,891.1 1653.6,892.4 1656.6,893.8 1659.7,895.1 1662.8,896.5 1665.9,897.8 1668.9,899.2 1672.0,900.5 1675.1,901.8 1678.2,903.1 1681.2,904.4 1684.3,905.7 1687.4,907.0 1690.5,908.2 1693.5,909.5 1696.6,910.8 1699.7,912.0 1702.8,913.3 1705.8,914.5 1708.9,915.7 1712.0,916.9" fill="none" stroke="#c0a428" stroke-width="3.0" stroke-linejoin="round"/><polyline points="328.0,953.1 331.1,951.2 334.2,949.4 337.2,947.4 340.3,945.5 343.4,943.5 346.5,941.4 349.5,939.3 352.6,937.2 355.7,935.1 358.8,932.9 361.8,930.6 364.9,928.3 368.0,926.0 371.1,923.6 374.1,921.2 377.2,918.8 380.3,916.3 383.4,913.7 386.4,911.2 389.5,908.6 392.6,905.9 395.7,903.2 398.7,900.5 401.8,897.7 404.9,894.9 408.0,892.1 411.0,889.2 414.1,886.3 417.2,883.4 420.3,880.4 423.3,877.4 426.4,874.4 429.5,871.3 432.6,868.2 435.6,865.1 438.7,861.9 441.8,858.7 444.9,855.5 447.9,852.3 451.0,849.0 454.1,845.7 457.2,842.4 460.2,839.1 463.3,835.7 466.4,832.4 469.5,829.0 472.6,825.6 475.6,822.1 478.7,818.7 481.8,815.3 484.9,811.8 487.9,808.3 491.0,804.9 494.1,801.4 497.2,797.9 500.2,794.4 503.3,790.9 506.4,787.4 509.5,783.9 512.5,780.4 515.6,776.8 518.7,773.3 521.8,769.8 524.8,766.3 527.9,762.8 531.0,759.3 534.1,755.8 537.1,752.4 540.2,748.9 543.3,745.4 546.4,742.0 549.4,738.5 552.5,735.1 555.6,731.7 558.7,728.3 561.7,724.9 564.8,721.5 567.9,718.1 571.0,714.8 574.0,711.5 577.1,708.1 580.2,704.8 583.3,701.6 586.3,698.3 589.4,695.0 592.5,691.8 595.6,688.6 598.6,685.4 601.7,682.2 604.8,679.1 607.9,675.9 611.0,672.8 614.0,669.7 617.1,666.6 620.2,663.5 623.3,660.5 626.3,657.5 629.4,654.5 632.5,651.5 635.6,648.5 638.6,645.5 641.7,642.6 644.8,639.7 647.9,636.8 650.9,633.9 654.0,631.0 657.1,628.2 660.2,625.4 663.2,622.6 666.3,619.8 669.4,617.0 672.5,614.2 675.5,611.5 678.6,608.8 681.7,606.1 684.8,603.4 687.8,600.7 690.9,598.1 694.0,595.4 697.1,592.8 700.1,590.2 703.2,587.6 706.3,585.0 709.4,582.5 712.4,580.0 715.5,577.5 718.6,575.0 721.7,572.5 724.7,570.0 727.8,567.6 730.9,565.2 734.0,562.8 737.0,560.4 740.1,558.0 743.2,555.7 746.3,553.4 749.4,551.1 752.4,548.8 755.5,546.6 758.6,544.4 761.7,542.2 764.7,540.0 767.8,537.8 770.9,535.7 774.0,533.6 777.0,531.5 780.1,529.5 783.2,527.5 786.3,525.5 789.3,523.5 792.4,521.6 795.5,519.7 798.6,517.8 801.6,516.0 804.7,514.2 807.8,512.4 810.9,510.7 813.9,509.0 817.0,507.3 820.1,505.7 823.2,504.1 826.2,502.6 829.3,501.0 832.4,499.6 835.5,498.1 838.5,496.7 841.6,495.4 844.7,494.0 847.8,492.8 850.8,491.5 853.9,490.3 857.0,489.2 860.1,488.1 863.1,487.0 866.2,486.0 869.3,485.0 872.4,484.1 875.4,483.2 878.5,482.4 881.6,481.6 884.7,480.9 887.8,480.2 890.8,479.5 893.9,478.9 897.0,478.4 900.1,477.9 903.1,477.4 906.2,477.0 909.3,476.7 912.4,476.4 915.4,476.1 918.5,475.9 921.6,475.7 924.7,475.6 927.7,475.5 930.8,475.5 933.9,475.5 937.0,475.6 940.0,475.7 943.1,475.9 946.2,476.1 949.3,476.4 952.3,476.7 955.4,477.1 958.5,477.5 961.6,477.9 964.6,478.4 967.7,479.0 970.8,479.6 973.9,480.2 976.9,480.9 980.0,481.6 983.1,482.4 986.2,483.2 989.2,484.1 992.3,485.0 995.4,485.9 998.5,486.9 1001.5,487.9 1004.6,489.0 1007.7,490.1 1010.8,491.2 1013.8,492.4 1016.9,493.6 1020.0,494.8 1023.1,496.1 1026.2,497.5 1029.2,498.8 1032.3,500.2 1035.4,501.7 1038.5,503.1 1041.5,504.6 1044.6,506.2 1047.7,507.7 1050.8,509.3 1053.8,510.9 1056.9,512.6 1060.0,514.3 1063.1,516.0 1066.1,517.7 1069.2,519.5 1072.3,521.3 1075.4,523.1 1078.4,524.9 1081.5,526.8 1084.6,528.7 1087.7,530.6 1090.7,532.5 1093.8,534.5 1096.9,536.4 1100.0,538.4 1103.0,540.5 1106.1,542.5 1109.2,544.5 1112.3,546.6 1115.3,548.7 1118.4,550.8 1121.5,552.9 1124.6,555.0 1127.6,557.2 1130.7,559.3 1133.8,561.5 1136.9,563.7 1139.9,565.9 1143.0,568.1 1146.1,570.3 1149.2,572.5 1152.2,574.8 1155.3,577.0 1158.4,579.3 1161.5,581.5 1164.6,583.8 1167.6,586.1 1170.7,588.3 1173.8,590.6 1176.9,592.9 1179.9,595.2 1183.0,597.5 1186.1,599.8 1189.2,602.1 1192.2,604.4 1195.3,606.7 1198.4,609.0 1201.5,611.4 1204.5,613.7 1207.6,616.0 1210.7,618.3 1213.8,620.6 1216.8,622.9 1219.9,625.2 1223.0,627.6 1226.1,629.9 1229.1,632.2 1232.2,634.5 1235.3,636.8 1238.4,639.1 1241.4,641.4 1244.5,643.7 1247.6,646.0 1250.7,648.3 1253.7,650.6 1256.8,652.8 1259.9,655.1 1263.0,657.4 1266.0,659.7 1269.1,661.9 1272.2,664.2 1275.3,666.4 1278.3,668.7 1281.4,670.9 1284.5,673.2 1287.6,675.4 1290.6,677.6 1293.7,679.8 1296.8,682.0 1299.9,684.2 1303.0,686.4 1306.0,688.6 1309.1,690.8 1312.2,693.0 1315.3,695.1 1318.3,697.3 1321.4,699.5 1324.5,701.6 1327.6,703.7 1330.6,705.9 1333.7,708.0 1336.8,710.1 1339.9,712.2 1342.9,714.3 1346.0,716.4 1349.1,718.5 1352.2,720.6 1355.2,722.7 1358.3,724.7 1361.4,726.8 1364.5,728.8 1367.5,730.9 1370.6,732.9 1373.7,734.9 1376.8,737.0 1379.8,739.0 1382.9,741.0 1386.0,743.0 1389.1,745.0 1392.1,746.9 1395.2,748.9 1398.3,750.9 1401.4,752.8 1404.4,754.8 1407.5,756.7 1410.6,758.7 1413.7,760.6 1416.7,762.5 1419.8,764.4 1422.9,766.3 1426.0,768.2 1429.0,770.1 1432.1,772.0 1435.2,773.9 1438.3,775.8 1441.4,777.6 1444.4,779.5 1447.5,781.3 1450.6,783.2 1453.7,785.0 1456.7,786.8 1459.8,788.7 1462.9,790.5 1466.0,792.3 1469.0,794.1 1472.1,795.9 1475.2,797.7 1478.3,799.4 1481.3,801.2 1484.4,803.0 1487.5,804.7 1490.6,806.5 1493.6,808.2 1496.7,810.0 1499.8,811.7 1502.9,813.5 1505.9,815.2 1509.0,816.9 1512.1,818.6 1515.2,820.3 1518.2,822.0 1521.3,823.7 1524.4,825.4 1527.5,827.0 1530.5,828.7 1533.6,830.4 1536.7,832.0 1539.8,833.7 1542.8,835.3 1545.9,836.9 1549.0,838.6 1552.1,840.2 1555.1,841.8 1558.2,843.4 1561.3,845.0 1564.4,846.6 1567.4,848.2 1570.5,849.8 1573.6,851.4 1576.7,852.9 1579.8,854.5 1582.8,856.1 1585.9,857.6 1589.0,859.1 1592.1,860.7 1595.1,862.2 1598.2,863.7 1601.3,865.2 1604.4,866.8 1607.4,868.3 1610.5,869.7 1613.6,871.2 1616.7,872.7 1619.7,874.2 1622.8,875.7 1625.9,877.1 1629.0,878.6 1632.0,880.0 1635.1,881.4 1638.2,882.9 1641.3,884.3 1644.3,885.7 1647.4,887.1 1650.5,888.5 1653.6,889.9 1656.6,891.3 1659.7,892.7 1662.8,894.0 1665.9,895.4 1668.9,896.8 1672.0,898.1 1675.1,899.4 1678.2,900.8 1681.2,902.1 1684.3,903.4 1687.4,904.7 1690.5,906.0 1693.5,907.3 1696.6,908.6 1699.7,909.9 1702.8,911.1 1705.8,912.4 1708.9,913.7 1712.0,914.9" fill="none" stroke="#f0563c" stroke-width="3.0" stroke-linejoin="round"/><polyline points="328.0,952.2 331.1,950.3 334.2,948.4 337.2,946.5 340.3,944.5 343.4,942.4 346.5,940.4 349.5,938.3 352.6,936.1 355.7,933.9 358.8,931.7 361.8,929.4 364.9,927.1 368.0,924.7 371.1,922.3 374.1,919.9 377.2,917.4 380.3,914.9 383.4,912.3 386.4,909.7 389.5,907.1 392.6,904.4 395.7,901.7 398.7,898.9 401.8,896.1 404.9,893.3 408.0,890.4 411.0,887.5 414.1,884.5 417.2,881.5 420.3,878.5 423.3,875.5 426.4,872.4 429.5,869.3 432.6,866.1 435.6,863.0 438.7,859.8 441.8,856.5 444.9,853.3 447.9,850.0 451.0,846.7 454.1,843.3 457.2,840.0 460.2,836.6 463.3,833.2 466.4,829.8 469.5,826.4 472.6,822.9 475.6,819.5 478.7,816.0 481.8,812.5 484.9,809.0 487.9,805.5 491.0,801.9 494.1,798.4 497.2,794.9 500.2,791.3 503.3,787.8 506.4,784.2 509.5,780.7 512.5,777.1 515.6,773.6 518.7,770.0 521.8,766.5 524.8,762.9 527.9,759.4 531.0,755.9 534.1,752.3 537.1,748.8 540.2,745.3 543.3,741.8 546.4,738.3 549.4,734.8 552.5,731.4 555.6,727.9 558.7,724.5 561.7,721.0 564.8,717.6 567.9,714.2 571.0,710.8 574.0,707.5 577.1,704.1 580.2,700.8 583.3,697.4 586.3,694.1 589.4,690.9 592.5,687.6 595.6,684.4 598.6,681.1 601.7,677.9 604.8,674.7 607.9,671.5 611.0,668.4 614.0,665.3 617.1,662.1 620.2,659.0 623.3,656.0 626.3,652.9 629.4,649.9 632.5,646.8 635.6,643.8 638.6,640.9 641.7,637.9 644.8,634.9 647.9,632.0 650.9,629.1 654.0,626.2 657.1,623.3 660.2,620.5 663.2,617.6 666.3,614.8 669.4,612.0 672.5,609.2 675.5,606.4 678.6,603.7 681.7,600.9 684.8,598.2 687.8,595.5 690.9,592.8 694.0,590.1 697.1,587.5 700.1,584.8 703.2,582.2 706.3,579.6 709.4,577.0 712.4,574.5 715.5,571.9 718.6,569.4 721.7,566.9 724.7,564.4 727.8,561.9 730.9,559.4 734.0,557.0 737.0,554.6 740.1,552.2 743.2,549.8 746.3,547.5 749.4,545.1 752.4,542.8 755.5,540.5 758.6,538.3 761.7,536.0 764.7,533.8 767.8,531.6 770.9,529.4 774.0,527.3 777.0,525.2 780.1,523.1 783.2,521.1 786.3,519.0 789.3,517.0 792.4,515.1 795.5,513.1 798.6,511.2 801.6,509.3 804.7,507.5 807.8,505.7 810.9,503.9 813.9,502.2 817.0,500.5 820.1,498.8 823.2,497.2 826.2,495.6 829.3,494.0 832.4,492.5 835.5,491.0 838.5,489.6 841.6,488.2 844.7,486.9 847.8,485.5 850.8,484.3 853.9,483.1 857.0,481.9 860.1,480.7 863.1,479.6 866.2,478.6 869.3,477.6 872.4,476.6 875.4,475.7 878.5,474.9 881.6,474.0 884.7,473.3 887.8,472.6 890.8,471.9 893.9,471.3 897.0,470.7 900.1,470.1 903.1,469.7 906.2,469.2 909.3,468.9 912.4,468.5 915.4,468.2 918.5,468.0 921.6,467.8 924.7,467.7 927.7,467.6 930.8,467.6 933.9,467.6 937.0,467.6 940.0,467.7 943.1,467.9 946.2,468.1 949.3,468.3 952.3,468.7 955.4,469.0 958.5,469.4 961.6,469.8 964.6,470.3 967.7,470.9 970.8,471.4 973.9,472.1 976.9,472.7 980.0,473.5 983.1,474.2 986.2,475.0 989.2,475.9 992.3,476.8 995.4,477.7 998.5,478.7 1001.5,479.7 1004.6,480.8 1007.7,481.9 1010.8,483.0 1013.8,484.2 1016.9,485.4 1020.0,486.7 1023.1,488.0 1026.2,489.3 1029.2,490.7 1032.3,492.1 1035.4,493.5 1038.5,495.0 1041.5,496.5 1044.6,498.0 1047.7,499.6 1050.8,501.2 1053.8,502.8 1056.9,504.5 1060.0,506.2 1063.1,507.9 1066.1,509.6 1069.2,511.4 1072.3,513.2 1075.4,515.0 1078.4,516.9 1081.5,518.8 1084.6,520.7 1087.7,522.6 1090.7,524.6 1093.8,526.5 1096.9,528.5 1100.0,530.5 1103.0,532.6 1106.1,534.6 1109.2,536.7 1112.3,538.8 1115.3,540.9 1118.4,543.0 1121.5,545.1 1124.6,547.3 1127.6,549.5 1130.7,551.6 1133.8,553.8 1136.9,556.0 1139.9,558.2 1143.0,560.5 1146.1,562.7 1149.2,565.0 1152.2,567.2 1155.3,569.5 1158.4,571.8 1161.5,574.1 1164.6,576.4 1167.6,578.7 1170.7,581.0 1173.8,583.3 1176.9,585.6 1179.9,587.9 1183.0,590.3 1186.1,592.6 1189.2,594.9 1192.2,597.3 1195.3,599.6 1198.4,601.9 1201.5,604.3 1204.5,606.6 1207.6,609.0 1210.7,611.3 1213.8,613.7 1216.8,616.0 1219.9,618.4 1223.0,620.7 1226.1,623.1 1229.1,625.4 1232.2,627.8 1235.3,630.1 1238.4,632.4 1241.4,634.8 1244.5,637.1 1247.6,639.4 1250.7,641.7 1253.7,644.1 1256.8,646.4 1259.9,648.7 1263.0,651.0 1266.0,653.3 1269.1,655.6 1272.2,657.9 1275.3,660.2 1278.3,662.5 1281.4,664.7 1284.5,667.0 1287.6,669.3 1290.6,671.5 1293.7,673.8 1296.8,676.0 1299.9,678.3 1303.0,680.5 1306.0,682.7 1309.1,685.0 1312.2,687.2 1315.3,689.4 1318.3,691.6 1321.4,693.8 1324.5,695.9 1327.6,698.1 1330.6,700.3 1333.7,702.4 1336.8,704.6 1339.9,706.7 1342.9,708.9 1346.0,711.0 1349.1,713.1 1352.2,715.3 1355.2,717.4 1358.3,719.5 1361.4,721.6 1364.5,723.6 1367.5,725.7 1370.6,727.8 1373.7,729.9 1376.8,731.9 1379.8,734.0 1382.9,736.0 1386.0,738.0 1389.1,740.1 1392.1,742.1 1395.2,744.1 1398.3,746.1 1401.4,748.1 1404.4,750.1 1407.5,752.0 1410.6,754.0 1413.7,756.0 1416.7,757.9 1419.8,759.9 1422.9,761.8 1426.0,763.8 1429.0,765.7 1432.1,767.6 1435.2,769.5 1438.3,771.4 1441.4,773.3 1444.4,775.2 1447.5,777.1 1450.6,779.0 1453.7,780.8 1456.7,782.7 1459.8,784.6 1462.9,786.4 1466.0,788.2 1469.0,790.1 1472.1,791.9 1475.2,793.7 1478.3,795.5 1481.3,797.4 1484.4,799.2 1487.5,800.9 1490.6,802.7 1493.6,804.5 1496.7,806.3 1499.8,808.0 1502.9,809.8 1505.9,811.6 1509.0,813.3 1512.1,815.0 1515.2,816.8 1518.2,818.5 1521.3,820.2 1524.4,821.9 1527.5,823.6 1530.5,825.3 1533.6,827.0 1536.7,828.7 1539.8,830.4 1542.8,832.1 1545.9,833.7 1549.0,835.4 1552.1,837.0 1555.1,838.7 1558.2,840.3 1561.3,842.0 1564.4,843.6 1567.4,845.2 1570.5,846.8 1573.6,848.4 1576.7,850.0 1579.8,851.6 1582.8,853.2 1585.9,854.8 1589.0,856.3 1592.1,857.9 1595.1,859.4 1598.2,861.0 1601.3,862.5 1604.4,864.1 1607.4,865.6 1610.5,867.1 1613.6,868.6 1616.7,870.1 1619.7,871.6 1622.8,873.1 1625.9,874.6 1629.0,876.1 1632.0,877.6 1635.1,879.0 1638.2,880.5 1641.3,881.9 1644.3,883.4 1647.4,884.8 1650.5,886.2 1653.6,887.6 1656.6,889.0 1659.7,890.4 1662.8,891.8 1665.9,893.2 1668.9,894.6 1672.0,896.0 1675.1,897.3 1678.2,898.7 1681.2,900.0 1684.3,901.4 1687.4,902.7 1690.5,904.0 1693.5,905.4 1696.6,906.7 1699.7,908.0 1702.8,909.2 1705.8,910.5 1708.9,911.8 1712.0,913.1" fill="none" stroke="#c81e5a" stroke-width="3.0" stroke-linejoin="round"/><polyline points="328.0,950.6 331.1,948.7 334.2,946.8 337.2,944.8 340.3,942.8 343.4,940.7 346.5,938.6 349.5,936.4 352.6,934.2 355.7,932.0 358.8,929.7 361.8,927.4 364.9,925.0 368.0,922.6 371.1,920.1 374.1,917.6 377.2,915.1 380.3,912.5 383.4,909.9 386.4,907.2 389.5,904.5 392.6,901.8 395.7,899.0 398.7,896.2 401.8,893.3 404.9,890.4 408.0,887.4 411.0,884.5 414.1,881.5 417.2,878.4 420.3,875.3 423.3,872.2 426.4,869.0 429.5,865.9 432.6,862.6 435.6,859.4 438.7,856.1 441.8,852.8 444.9,849.5 447.9,846.1 451.0,842.7 454.1,839.3 457.2,835.9 460.2,832.5 463.3,829.0 466.4,825.5 469.5,822.0 472.6,818.4 475.6,814.9 478.7,811.4 481.8,807.8 484.9,804.2 487.9,800.6 491.0,797.0 494.1,793.4 497.2,789.8 500.2,786.2 503.3,782.6 506.4,778.9 509.5,775.3 512.5,771.7 515.6,768.0 518.7,764.4 521.8,760.8 524.8,757.2 527.9,753.6 531.0,750.0 534.1,746.4 537.1,742.8 540.2,739.2 543.3,735.6 546.4,732.1 549.4,728.5 552.5,725.0 555.6,721.5 558.7,718.0 561.7,714.5 564.8,711.0 567.9,707.5 571.0,704.1 574.0,700.7 577.1,697.3 580.2,693.9 583.3,690.5 586.3,687.1 589.4,683.8 592.5,680.5 595.6,677.2 598.6,673.9 601.7,670.6 604.8,667.4 607.9,664.1 611.0,660.9 614.0,657.7 617.1,654.6 620.2,651.4 623.3,648.3 626.3,645.2 629.4,642.1 632.5,639.0 635.6,636.0 638.6,632.9 641.7,629.9 644.8,626.9 647.9,623.9 650.9,620.9 654.0,618.0 657.1,615.1 660.2,612.1 663.2,609.3 666.3,606.4 669.4,603.5 672.5,600.7 675.5,597.8 678.6,595.0 681.7,592.2 684.8,589.4 687.8,586.7 690.9,583.9 694.0,581.2 697.1,578.5 700.1,575.8 703.2,573.1 706.3,570.4 709.4,567.8 712.4,565.1 715.5,562.5 718.6,559.9 721.7,557.4 724.7,554.8 727.8,552.3 730.9,549.7 734.0,547.2 737.0,544.7 740.1,542.3 743.2,539.8 746.3,537.4 749.4,535.0 752.4,532.6 755.5,530.3 758.6,527.9 761.7,525.6 764.7,523.3 767.8,521.1 770.9,518.9 774.0,516.6 777.0,514.5 780.1,512.3 783.2,510.2 786.3,508.1 789.3,506.0 792.4,504.0 795.5,502.0 798.6,500.0 801.6,498.0 804.7,496.1 807.8,494.3 810.9,492.4 813.9,490.6 817.0,488.9 820.1,487.1 823.2,485.4 826.2,483.8 829.3,482.2 832.4,480.6 835.5,479.0 838.5,477.5 841.6,476.1 844.7,474.7 847.8,473.3 850.8,472.0 853.9,470.7 857.0,469.5 860.1,468.3 863.1,467.1 866.2,466.0 869.3,465.0 872.4,463.9 875.4,463.0 878.5,462.1 881.6,461.2 884.7,460.4 887.8,459.6 890.8,458.9 893.9,458.2 897.0,457.6 900.1,457.0 903.1,456.5 906.2,456.0 909.3,455.6 912.4,455.3 915.4,454.9 918.5,454.7 921.6,454.4 924.7,454.3 927.7,454.2 930.8,454.1 933.9,454.1 937.0,454.1 940.0,454.2 943.1,454.3 946.2,454.5 949.3,454.7 952.3,455.0 955.4,455.3 958.5,455.7 961.6,456.1 964.6,456.6 967.7,457.1 970.8,457.7 973.9,458.3 976.9,458.9 980.0,459.7 983.1,460.4 986.2,461.2 989.2,462.0 992.3,462.9 995.4,463.9 998.5,464.8 1001.5,465.8 1004.6,466.9 1007.7,468.0 1010.8,469.1 1013.8,470.3 1016.9,471.5 1020.0,472.8 1023.1,474.1 1026.2,475.4 1029.2,476.8 1032.3,478.2 1035.4,479.7 1038.5,481.1 1041.5,482.7 1044.6,484.2 1047.7,485.8 1050.8,487.4 1053.8,489.1 1056.9,490.7 1060.0,492.4 1063.1,494.2 1066.1,496.0 1069.2,497.8 1072.3,499.6 1075.4,501.4 1078.4,503.3 1081.5,505.2 1084.6,507.1 1087.7,509.1 1090.7,511.1 1093.8,513.1 1096.9,515.1 1100.0,517.1 1103.0,519.2 1106.1,521.3 1109.2,523.4 1112.3,525.5 1115.3,527.6 1118.4,529.8 1121.5,532.0 1124.6,534.2 1127.6,536.4 1130.7,538.6 1133.8,540.8 1136.9,543.1 1139.9,545.3 1143.0,547.6 1146.1,549.9 1149.2,552.2 1152.2,554.5 1155.3,556.8 1158.4,559.1 1161.5,561.4 1164.6,563.8 1167.6,566.1 1170.7,568.5 1173.8,570.8 1176.9,573.2 1179.9,575.6 1183.0,578.0 1186.1,580.3 1189.2,582.7 1192.2,585.1 1195.3,587.5 1198.4,589.9 1201.5,592.3 1204.5,594.7 1207.6,597.1 1210.7,599.5 1213.8,601.9 1216.8,604.3 1219.9,606.7 1223.0,609.1 1226.1,611.5 1229.1,613.9 1232.2,616.3 1235.3,618.7 1238.4,621.1 1241.4,623.5 1244.5,625.9 1247.6,628.3 1250.7,630.7 1253.7,633.1 1256.8,635.4 1259.9,637.8 1263.0,640.2 1266.0,642.5 1269.1,644.9 1272.2,647.2 1275.3,649.6 1278.3,651.9 1281.4,654.3 1284.5,656.6 1287.6,658.9 1290.6,661.3 1293.7,663.6 1296.8,665.9 1299.9,668.2 1303.0,670.5 1306.0,672.8 1309.1,675.0 1312.2,677.3 1315.3,679.6 1318.3,681.8 1321.4,684.1 1324.5,686.3 1327.6,688.6 1330.6,690.8 1333.7,693.0 1336.8,695.3 1339.9,697.5 1342.9,699.7 1346.0,701.9 1349.1,704.0 1352.2,706.2 1355.2,708.4 1358.3,710.6 1361.4,712.7 1364.5,714.9 1367.5,717.0 1370.6,719.1 1373.7,721.3 1376.8,723.4 1379.8,725.5 1382.9,727.6 1386.0,729.7 1389.1,731.8 1392.1,733.8 1395.2,735.9 1398.3,738.0 1401.4,740.0 1404.4,742.1 1407.5,744.1 1410.6,746.1 1413.7,748.2 1416.7,750.2 1419.8,752.2 1422.9,754.2 1426.0,756.2 1429.0,758.2 1432.1,760.1 1435.2,762.1 1438.3,764.1 1441.4,766.0 1444.4,768.0 1447.5,769.9 1450.6,771.9 1453.7,773.8 1456.7,775.7 1459.8,777.6 1462.9,779.5 1466.0,781.4 1469.0,783.3 1472.1,785.2 1475.2,787.1 1478.3,788.9 1481.3,790.8 1484.4,792.6 1487.5,794.5 1490.6,796.3 1493.6,798.2 1496.7,800.0 1499.8,801.8 1502.9,803.6 1505.9,805.4 1509.0,807.2 1512.1,809.0 1515.2,810.8 1518.2,812.6 1521.3,814.4 1524.4,816.1 1527.5,817.9 1530.5,819.6 1533.6,821.4 1536.7,823.1 1539.8,824.8 1542.8,826.6 1545.9,828.3 1549.0,830.0 1552.1,831.7 1555.1,833.4 1558.2,835.1 1561.3,836.7 1564.4,838.4 1567.4,840.1 1570.5,841.7 1573.6,843.4 1576.7,845.0 1579.8,846.7 1582.8,848.3 1585.9,849.9 1589.0,851.5 1592.1,853.2 1595.1,854.8 1598.2,856.4 1601.3,857.9 1604.4,859.5 1607.4,861.1 1610.5,862.7 1613.6,864.2 1616.7,865.8 1619.7,867.3 1622.8,868.8 1625.9,870.4 1629.0,871.9 1632.0,873.4 1635.1,874.9 1638.2,876.4 1641.3,877.9 1644.3,879.4 1647.4,880.9 1650.5,882.3 1653.6,883.8 1656.6,885.2 1659.7,886.7 1662.8,888.1 1665.9,889.5 1668.9,891.0 1672.0,892.4 1675.1,893.8 1678.2,895.2 1681.2,896.5 1684.3,897.9 1687.4,899.3 1690.5,900.7 1693.5,902.0 1696.6,903.4 1699.7,904.7 1702.8,906.0 1705.8,907.3 1708.9,908.7 1712.0,910.0" fill="none" stroke="#8c8c2a" stroke-width="3.0" stroke-linejoin="round"/><polyline points="328.0,949.2 331.1,947.3 334.2,945.3 337.2,943.3 340.3,941.2 343.4,939.1 346.5,936.9 349.5,934.7 352.6,932.5 355.7,930.2 358.8,927.9 361.8,925.5 364.9,923.1 368.0,920.6 371.1,918.1 374.1,915.6 377.2,913.0 380.3,910.4 383.4,907.7 386.4,905.0 389.5,902.2 392.6,899.4 395.7,896.6 398.7,893.7 401.8,890.8 404.9,887.8 408.0,884.8 411.0,881.8 414.1,878.7 417.2,875.6 420.3,872.4 423.3,869.2 426.4,866.0 429.5,862.8 432.6,859.5 435.6,856.2 438.7,852.8 441.8,849.5 444.9,846.1 447.9,842.6 451.0,839.2 454.1,835.7 457.2,832.2 460.2,828.7 463.3,825.2 466.4,821.6 469.5,818.0 472.6,814.4 475.6,810.8 478.7,807.2 481.8,803.5 484.9,799.9 487.9,796.2 491.0,792.6 494.1,788.9 497.2,785.2 500.2,781.5 503.3,777.8 506.4,774.1 509.5,770.4 512.5,766.8 515.6,763.1 518.7,759.4 521.8,755.7 524.8,752.0 527.9,748.3 531.0,744.7 534.1,741.0 537.1,737.4 540.2,733.7 543.3,730.1 546.4,726.5 549.4,722.9 552.5,719.3 555.6,715.7 558.7,712.1 561.7,708.6 564.8,705.0 567.9,701.5 571.0,698.0 574.0,694.6 577.1,691.1 580.2,687.6 583.3,684.2 586.3,680.8 589.4,677.4 592.5,674.0 595.6,670.7 598.6,667.4 601.7,664.0 604.8,660.7 607.9,657.5 611.0,654.2 614.0,651.0 617.1,647.8 620.2,644.6 623.3,641.4 626.3,638.2 629.4,635.1 632.5,632.0 635.6,628.8 638.6,625.8 641.7,622.7 644.8,619.6 647.9,616.6 650.9,613.6 654.0,610.6 657.1,607.6 660.2,604.6 663.2,601.7 666.3,598.8 669.4,595.9 672.5,593.0 675.5,590.1 678.6,587.2 681.7,584.4 684.8,581.5 687.8,578.7 690.9,575.9 694.0,573.1 697.1,570.4 700.1,567.6 703.2,564.9 706.3,562.1 709.4,559.4 712.4,556.7 715.5,554.1 718.6,551.4 721.7,548.8 724.7,546.2 727.8,543.6 730.9,541.0 734.0,538.4 737.0,535.9 740.1,533.3 743.2,530.8 746.3,528.4 749.4,525.9 752.4,523.5 755.5,521.0 758.6,518.6 761.7,516.3 764.7,513.9 767.8,511.6 770.9,509.3 774.0,507.0 777.0,504.8 780.1,502.6 783.2,500.4 786.3,498.2 789.3,496.1 792.4,494.0 795.5,491.9 798.6,489.9 801.6,487.9 804.7,485.9 807.8,484.0 810.9,482.1 813.9,480.2 817.0,478.4 820.1,476.6 823.2,474.8 826.2,473.1 829.3,471.4 832.4,469.8 835.5,468.2 838.5,466.7 841.6,465.2 844.7,463.7 847.8,462.3 850.8,460.9 853.9,459.6 857.0,458.3 860.1,457.0 863.1,455.8 866.2,454.7 869.3,453.6 872.4,452.5 875.4,451.5 878.5,450.5 881.6,449.6 884.7,448.8 887.8,448.0 890.8,447.2 893.9,446.5 897.0,445.8 900.1,445.2 903.1,444.7 906.2,444.2 909.3,443.7 912.4,443.3 915.4,442.9 918.5,442.6 921.6,442.4 924.7,442.2 927.7,442.0 930.8,441.9 933.9,441.9 937.0,441.9 940.0,441.9 943.1,442.1 946.2,442.2 949.3,442.4 952.3,442.7 955.4,443.0 958.5,443.3 961.6,443.7 964.6,444.2 967.7,444.7 970.8,445.3 973.9,445.9 976.9,446.5 980.0,447.2 983.1,447.9 986.2,448.7 989.2,449.6 992.3,450.4 995.4,451.4 998.5,452.3 1001.5,453.3 1004.6,454.4 1007.7,455.5 1010.8,456.6 1013.8,457.8 1016.9,459.0 1020.0,460.3 1023.1,461.6 1026.2,462.9 1029.2,464.3 1032.3,465.7 1035.4,467.2 1038.5,468.7 1041.5,470.2 1044.6,471.8 1047.7,473.4 1050.8,475.0 1053.8,476.7 1056.9,478.4 1060.0,480.1 1063.1,481.8 1066.1,483.6 1069.2,485.4 1072.3,487.3 1075.4,489.1 1078.4,491.0 1081.5,493.0 1084.6,494.9 1087.7,496.9 1090.7,498.9 1093.8,500.9 1096.9,503.0 1100.0,505.0 1103.0,507.1 1106.1,509.2 1109.2,511.4 1112.3,513.5 1115.3,515.7 1118.4,517.9 1121.5,520.1 1124.6,522.3 1127.6,524.5 1130.7,526.8 1133.8,529.1 1136.9,531.4 1139.9,533.7 1143.0,536.0 1146.1,538.3 1149.2,540.6 1152.2,543.0 1155.3,545.3 1158.4,547.7 1161.5,550.1 1164.6,552.4 1167.6,554.8 1170.7,557.2 1173.8,559.6 1176.9,562.0 1179.9,564.5 1183.0,566.9 1186.1,569.3 1189.2,571.7 1192.2,574.2 1195.3,576.6 1198.4,579.1 1201.5,581.5 1204.5,584.0 1207.6,586.4 1210.7,588.9 1213.8,591.3 1216.8,593.8 1219.9,596.2 1223.0,598.7 1226.1,601.1 1229.1,603.6 1232.2,606.0 1235.3,608.5 1238.4,610.9 1241.4,613.4 1244.5,615.8 1247.6,618.3 1250.7,620.7 1253.7,623.1 1256.8,625.6 1259.9,628.0 1263.0,630.4 1266.0,632.8 1269.1,635.2 1272.2,637.6 1275.3,640.1 1278.3,642.4 1281.4,644.8 1284.5,647.2 1287.6,649.6 1290.6,652.0 1293.7,654.4 1296.8,656.7 1299.9,659.1 1303.0,661.4 1306.0,663.8 1309.1,666.1 1312.2,668.4 1315.3,670.8 1318.3,673.1 1321.4,675.4 1324.5,677.7 1327.6,680.0 1330.6,682.3 1333.7,684.6 1336.8,686.8 1339.9,689.1 1342.9,691.3 1346.0,693.6 1349.1,695.8 1352.2,698.1 1355.2,700.3 1358.3,702.5 1361.4,704.7 1364.5,706.9 1367.5,709.1 1370.6,711.3 1373.7,713.5 1376.8,715.7 1379.8,717.8 1382.9,720.0 1386.0,722.1 1389.1,724.3 1392.1,726.4 1395.2,728.5 1398.3,730.6 1401.4,732.8 1404.4,734.9 1407.5,736.9 1410.6,739.0 1413.7,741.1 1416.7,743.2 1419.8,745.2 1422.9,747.3 1426.0,749.3 1429.0,751.4 1432.1,753.4 1435.2,755.4 1438.3,757.5 1441.4,759.5 1444.4,761.5 1447.5,763.5 1450.6,765.4 1453.7,767.4 1456.7,769.4 1459.8,771.3 1462.9,773.3 1466.0,775.3 1469.0,777.2 1472.1,779.1 1475.2,781.1 1478.3,783.0 1481.3,784.9 1484.4,786.8 1487.5,788.7 1490.6,790.6 1493.6,792.5 1496.7,794.3 1499.8,796.2 1502.9,798.1 1505.9,799.9 1509.0,801.8 1512.1,803.6 1515.2,805.4 1518.2,807.3 1521.3,809.1 1524.4,810.9 1527.5,812.7 1530.5,814.5 1533.6,816.3 1536.7,818.1 1539.8,819.8 1542.8,821.6 1545.9,823.4 1549.0,825.1 1552.1,826.9 1555.1,828.6 1558.2,830.3 1561.3,832.1 1564.4,833.8 1567.4,835.5 1570.5,837.2 1573.6,838.9 1576.7,840.6 1579.8,842.2 1582.8,843.9 1585.9,845.6 1589.0,847.2 1592.1,848.9 1595.1,850.5 1598.2,852.2 1601.3,853.8 1604.4,855.4 1607.4,857.0 1610.5,858.6 1613.6,860.2 1616.7,861.8 1619.7,863.4 1622.8,865.0 1625.9,866.6 1629.0,868.1 1632.0,869.7 1635.1,871.2 1638.2,872.7 1641.3,874.3 1644.3,875.8 1647.4,877.3 1650.5,878.8 1653.6,880.3 1656.6,881.8 1659.7,883.3 1662.8,884.7 1665.9,886.2 1668.9,887.7 1672.0,889.1 1675.1,890.5 1678.2,892.0 1681.2,893.4 1684.3,894.8 1687.4,896.2 1690.5,897.6 1693.5,899.0 1696.6,900.4 1699.7,901.8 1702.8,903.1 1705.8,904.5 1708.9,905.8 1712.0,907.1" fill="none" stroke="#f08c36" stroke-width="3.0" stroke-linejoin="round"/><polyline points="328.0,947.0 331.1,945.0 334.2,943.0 337.2,940.9 340.3,938.8 343.4,936.6 346.5,934.4 349.5,932.1 352.6,929.8 355.7,927.4 358.8,925.0 361.8,922.6 364.9,920.1 368.0,917.6 371.1,915.0 374.1,912.4 377.2,909.7 380.3,907.0 383.4,904.2 386.4,901.4 389.5,898.6 392.6,895.7 395.7,892.8 398.7,889.8 401.8,886.8 404.9,883.7 408.0,880.6 411.0,877.5 414.1,874.3 417.2,871.1 420.3,867.9 423.3,864.6 426.4,861.3 429.5,857.9 432.6,854.5 435.6,851.1 438.7,847.6 441.8,844.2 444.9,840.7 447.9,837.1 451.0,833.6 454.1,830.0 457.2,826.4 460.2,822.7 463.3,819.1 466.4,815.4 469.5,811.7 472.6,808.0 475.6,804.3 478.7,800.6 481.8,796.8 484.9,793.1 487.9,789.3 491.0,785.5 494.1,781.7 497.2,778.0 500.2,774.2 503.3,770.4 506.4,766.6 509.5,762.8 512.5,759.0 515.6,755.2 518.7,751.4 521.8,747.6 524.8,743.8 527.9,740.0 531.0,736.3 534.1,732.5 537.1,728.8 540.2,725.0 543.3,721.3 546.4,717.6 549.4,713.9 552.5,710.2 555.6,706.5 558.7,702.9 561.7,699.2 564.8,695.6 567.9,692.0 571.0,688.4 574.0,684.9 577.1,681.3 580.2,677.8 583.3,674.3 586.3,670.8 589.4,667.3 592.5,663.9 595.6,660.4 598.6,657.0 601.7,653.6 604.8,650.3 607.9,646.9 611.0,643.6 614.0,640.3 617.1,637.0 620.2,633.7 623.3,630.4 626.3,627.2 629.4,624.0 632.5,620.8 635.6,617.6 638.6,614.4 641.7,611.3 644.8,608.2 647.9,605.1 650.9,602.0 654.0,598.9 657.1,595.8 660.2,592.8 663.2,589.8 666.3,586.8 669.4,583.8 672.5,580.8 675.5,577.8 678.6,574.9 681.7,571.9 684.8,569.0 687.8,566.1 690.9,563.2 694.0,560.4 697.1,557.5 700.1,554.7 703.2,551.8 706.3,549.0 709.4,546.2 712.4,543.5 715.5,540.7 718.6,538.0 721.7,535.2 724.7,532.5 727.8,529.8 730.9,527.1 734.0,524.5 737.0,521.8 740.1,519.2 743.2,516.6 746.3,514.0 749.4,511.5 752.4,508.9 755.5,506.4 758.6,503.9 761.7,501.5 764.7,499.0 767.8,496.6 770.9,494.2 774.0,491.8 777.0,489.5 780.1,487.2 783.2,484.9 786.3,482.6 789.3,480.4 792.4,478.2 795.5,476.0 798.6,473.9 801.6,471.8 804.7,469.7 807.8,467.7 810.9,465.7 813.9,463.7 817.0,461.8 820.1,459.9 823.2,458.1 826.2,456.3 829.3,454.5 832.4,452.8 835.5,451.1 838.5,449.5 841.6,447.9 844.7,446.3 847.8,444.8 850.8,443.3 853.9,441.9 857.0,440.6 860.1,439.2 863.1,438.0 866.2,436.7 869.3,435.5 872.4,434.4 875.4,433.3 878.5,432.3 881.6,431.3 884.7,430.4 887.8,429.5 890.8,428.7 893.9,427.9 897.0,427.2 900.1,426.5 903.1,425.9 906.2,425.3 909.3,424.8 912.4,424.4 915.4,424.0 918.5,423.6 921.6,423.3 924.7,423.1 927.7,422.9 930.8,422.7 933.9,422.6 937.0,422.6 940.0,422.6 943.1,422.7 946.2,422.8 949.3,423.0 952.3,423.2 955.4,423.5 958.5,423.8 961.6,424.2 964.6,424.6 967.7,425.1 970.8,425.6 973.9,426.2 976.9,426.8 980.0,427.5 983.1,428.2 986.2,429.0 989.2,429.8 992.3,430.7 995.4,431.6 998.5,432.6 1001.5,433.6 1004.6,434.6 1007.7,435.7 1010.8,436.9 1013.8,438.0 1016.9,439.3 1020.0,440.5 1023.1,441.8 1026.2,443.2 1029.2,444.6 1032.3,446.0 1035.4,447.5 1038.5,449.0 1041.5,450.5 1044.6,452.1 1047.7,453.7 1050.8,455.4 1053.8,457.0 1056.9,458.8 1060.0,460.5 1063.1,462.3 1066.1,464.1 1069.2,465.9 1072.3,467.8 1075.4,469.7 1078.4,471.7 1081.5,473.6 1084.6,475.6 1087.7,477.6 1090.7,479.7 1093.8,481.7 1096.9,483.8 1100.0,485.9 1103.0,488.1 1106.1,490.2 1109.2,492.4 1112.3,494.6 1115.3,496.8 1118.4,499.0 1121.5,501.3 1124.6,503.6 1127.6,505.9 1130.7,508.2 1133.8,510.5 1136.9,512.8 1139.9,515.2 1143.0,517.6 1146.1,520.0 1149.2,522.3 1152.2,524.8 1155.3,527.2 1158.4,529.6 1161.5,532.0 1164.6,534.5 1167.6,536.9 1170.7,539.4 1173.8,541.9 1176.9,544.4 1179.9,546.9 1183.0,549.4 1186.1,551.9 1189.2,554.4 1192.2,556.9 1195.3,559.4 1198.4,561.9 1201.5,564.4 1204.5,567.0 1207.6,569.5 1210.7,572.0 1213.8,574.5 1216.8,577.1 1219.9,579.6 1223.0,582.1 1226.1,584.7 1229.1,587.2 1232.2,589.7 1235.3,592.3 1238.4,594.8 1241.4,597.3 1244.5,599.9 1247.6,602.4 1250.7,604.9 1253.7,607.4 1256.8,609.9 1259.9,612.5 1263.0,615.0 1266.0,617.5 1269.1,620.0 1272.2,622.5 1275.3,625.0 1278.3,627.4 1281.4,629.9 1284.5,632.4 1287.6,634.9 1290.6,637.3 1293.7,639.8 1296.8,642.2 1299.9,644.7 1303.0,647.1 1306.0,649.6 1309.1,652.0 1312.2,654.4 1315.3,656.8 1318.3,659.2 1321.4,661.6 1324.5,664.0 1327.6,666.4 1330.6,668.8 1333.7,671.1 1336.8,673.5 1339.9,675.8 1342.9,678.2 1346.0,680.5 1349.1,682.9 1352.2,685.2 1355.2,687.5 1358.3,689.8 1361.4,692.1 1364.5,694.4 1367.5,696.7 1370.6,699.0 1373.7,701.2 1376.8,703.5 1379.8,705.7 1382.9,708.0 1386.0,710.2 1389.1,712.4 1392.1,714.7 1395.2,716.9 1398.3,719.1 1401.4,721.3 1404.4,723.5 1407.5,725.6 1410.6,727.8 1413.7,730.0 1416.7,732.1 1419.8,734.3 1422.9,736.4 1426.0,738.5 1429.0,740.7 1432.1,742.8 1435.2,744.9 1438.3,747.0 1441.4,749.1 1444.4,751.1 1447.5,753.2 1450.6,755.3 1453.7,757.3 1456.7,759.4 1459.8,761.4 1462.9,763.5 1466.0,765.5 1469.0,767.5 1472.1,769.5 1475.2,771.5 1478.3,773.5 1481.3,775.5 1484.4,777.5 1487.5,779.5 1490.6,781.5 1493.6,783.4 1496.7,785.4 1499.8,787.3 1502.9,789.2 1505.9,791.2 1509.0,793.1 1512.1,795.0 1515.2,796.9 1518.2,798.8 1521.3,800.7 1524.4,802.6 1527.5,804.5 1530.5,806.3 1533.6,808.2 1536.7,810.1 1539.8,811.9 1542.8,813.7 1545.9,815.6 1549.0,817.4 1552.1,819.2 1555.1,821.0 1558.2,822.8 1561.3,824.6 1564.4,826.4 1567.4,828.2 1570.5,830.0 1573.6,831.7 1576.7,833.5 1579.8,835.2 1582.8,837.0 1585.9,838.7 1589.0,840.4 1592.1,842.1 1595.1,843.9 1598.2,845.6 1601.3,847.3 1604.4,848.9 1607.4,850.6 1610.5,852.3 1613.6,853.9 1616.7,855.6 1619.7,857.2 1622.8,858.9 1625.9,860.5 1629.0,862.1 1632.0,863.7 1635.1,865.4 1638.2,867.0 1641.3,868.5 1644.3,870.1 1647.4,871.7 1650.5,873.3 1653.6,874.8 1656.6,876.4 1659.7,877.9 1662.8,879.4 1665.9,880.9 1668.9,882.5 1672.0,884.0 1675.1,885.5 1678.2,886.9 1681.2,888.4 1684.3,889.9 1687.4,891.3 1690.5,892.8 1693.5,894.2 1696.6,895.7 1699.7,897.1 1702.8,898.5 1705.8,899.9 1708.9,901.3 1712.0,902.7" fill="none" stroke="#e0287a" stroke-width="3.0" stroke-linejoin="round"/><polyline points="328.0,944.8 331.1,942.7 334.2,940.6 337.2,938.5 340.3,936.3 343.4,934.0 346.5,931.8 349.5,929.4 352.6,927.1 355.7,924.6 358.8,922.2 361.8,919.6 364.9,917.1 368.0,914.5 371.1,911.8 374.1,909.1 377.2,906.3 380.3,903.5 383.4,900.7 386.4,897.8 389.5,894.9 392.6,891.9 395.7,888.9 398.7,885.8 401.8,882.7 404.9,879.6 408.0,876.4 411.0,873.2 414.1,869.9 417.2,866.6 420.3,863.2 423.3,859.8 426.4,856.4 429.5,853.0 432.6,849.5 435.6,846.0 438.7,842.4 441.8,838.8 444.9,835.2 447.9,831.6 451.0,827.9 454.1,824.2 457.2,820.5 460.2,816.7 463.3,813.0 466.4,809.2 469.5,805.4 472.6,801.6 475.6,797.7 478.7,793.9 481.8,790.0 484.9,786.2 487.9,782.3 491.0,778.4 494.1,774.5 497.2,770.6 500.2,766.7 503.3,762.8 506.4,758.9 509.5,755.0 512.5,751.1 515.6,747.2 518.7,743.3 521.8,739.4 524.8,735.5 527.9,731.6 531.0,727.8 534.1,723.9 537.1,720.1 540.2,716.2 543.3,712.4 546.4,708.6 549.4,704.8 552.5,701.0 555.6,697.3 558.7,693.5 561.7,689.8 564.8,686.1 567.9,682.4 571.0,678.7 574.0,675.1 577.1,671.4 580.2,667.8 583.3,664.2 586.3,660.7 589.4,657.1 592.5,653.6 595.6,650.1 598.6,646.6 601.7,643.1 604.8,639.7 607.9,636.2 611.0,632.8 614.0,629.4 617.1,626.0 620.2,622.7 623.3,619.4 626.3,616.1 629.4,612.8 632.5,609.5 635.6,606.2 638.6,603.0 641.7,599.8 644.8,596.6 647.9,593.4 650.9,590.2 654.0,587.1 657.1,583.9 660.2,580.8 663.2,577.7 666.3,574.6 669.4,571.5 672.5,568.5 675.5,565.4 678.6,562.4 681.7,559.4 684.8,556.4 687.8,553.4 690.9,550.4 694.0,547.5 697.1,544.5 700.1,541.6 703.2,538.7 706.3,535.8 709.4,532.9 712.4,530.0 715.5,527.2 718.6,524.3 721.7,521.5 724.7,518.7 727.8,515.9 730.9,513.1 734.0,510.4 737.0,507.6 740.1,504.9 743.2,502.2 746.3,499.5 749.4,496.9 752.4,494.3 755.5,491.6 758.6,489.0 761.7,486.5 764.7,483.9 767.8,481.4 770.9,478.9 774.0,476.4 777.0,474.0 780.1,471.6 783.2,469.2 786.3,466.8 789.3,464.5 792.4,462.2 795.5,459.9 798.6,457.7 801.6,455.5 804.7,453.3 807.8,451.2 810.9,449.1 813.9,447.1 817.0,445.0 820.1,443.1 823.2,441.1 826.2,439.2 829.3,437.4 832.4,435.6 835.5,433.8 838.5,432.1 841.6,430.4 844.7,428.7 847.8,427.1 850.8,425.6 853.9,424.1 857.0,422.6 860.1,421.2 863.1,419.9 866.2,418.6 869.3,417.3 872.4,416.1 875.4,415.0 878.5,413.9 881.6,412.8 884.7,411.8 887.8,410.9 890.8,410.0 893.9,409.1 897.0,408.3 900.1,407.6 903.1,406.9 906.2,406.3 909.3,405.7 912.4,405.2 915.4,404.8 918.5,404.4 921.6,404.0 924.7,403.7 927.7,403.5 930.8,403.3 933.9,403.1 937.0,403.1 940.0,403.0 943.1,403.1 946.2,403.2 949.3,403.3 952.3,403.5 955.4,403.7 958.5,404.0 961.6,404.4 964.6,404.8 967.7,405.2 970.8,405.7 973.9,406.3 976.9,406.9 980.0,407.6 983.1,408.3 986.2,409.0 989.2,409.9 992.3,410.7 995.4,411.6 998.5,412.6 1001.5,413.6 1004.6,414.6 1007.7,415.7 1010.8,416.9 1013.8,418.0 1016.9,419.3 1020.0,420.5 1023.1,421.8 1026.2,423.2 1029.2,424.6 1032.3,426.0 1035.4,427.5 1038.5,429.0 1041.5,430.6 1044.6,432.2 1047.7,433.8 1050.8,435.5 1053.8,437.2 1056.9,438.9 1060.0,440.7 1063.1,442.5 1066.1,444.4 1069.2,446.2 1072.3,448.1 1075.4,450.1 1078.4,452.0 1081.5,454.0 1084.6,456.1 1087.7,458.1 1090.7,460.2 1093.8,462.3 1096.9,464.4 1100.0,466.6 1103.0,468.8 1106.1,471.0 1109.2,473.2 1112.3,475.4 1115.3,477.7 1118.4,480.0 1121.5,482.3 1124.6,484.6 1127.6,487.0 1130.7,489.3 1133.8,491.7 1136.9,494.1 1139.9,496.5 1143.0,499.0 1146.1,501.4 1149.2,503.9 1152.2,506.3 1155.3,508.8 1158.4,511.3 1161.5,513.8 1164.6,516.3 1167.6,518.9 1170.7,521.4 1173.8,523.9 1176.9,526.5 1179.9,529.1 1183.0,531.6 1186.1,534.2 1189.2,536.8 1192.2,539.4 1195.3,542.0 1198.4,544.6 1201.5,547.2 1204.5,549.8 1207.6,552.4 1210.7,555.0 1213.8,557.6 1216.8,560.2 1219.9,562.8 1223.0,565.4 1226.1,568.0 1229.1,570.7 1232.2,573.3 1235.3,575.9 1238.4,578.5 1241.4,581.1 1244.5,583.7 1247.6,586.3 1250.7,588.9 1253.7,591.5 1256.8,594.1 1259.9,596.7 1263.0,599.3 1266.0,601.9 1269.1,604.5 1272.2,607.1 1275.3,609.7 1278.3,612.3 1281.4,614.8 1284.5,617.4 1287.6,619.9 1290.6,622.5 1293.7,625.0 1296.8,627.6 1299.9,630.1 1303.0,632.6 1306.0,635.2 1309.1,637.7 1312.2,640.2 1315.3,642.7 1318.3,645.2 1321.4,647.7 1324.5,650.2 1327.6,652.6 1330.6,655.1 1333.7,657.6 1336.8,660.0 1339.9,662.5 1342.9,664.9 1346.0,667.3 1349.1,669.7 1352.2,672.1 1355.2,674.6 1358.3,676.9 1361.4,679.3 1364.5,681.7 1367.5,684.1 1370.6,686.5 1373.7,688.8 1376.8,691.2 1379.8,693.5 1382.9,695.8 1386.0,698.1 1389.1,700.5 1392.1,702.8 1395.2,705.1 1398.3,707.4 1401.4,709.6 1404.4,711.9 1407.5,714.2 1410.6,716.4 1413.7,718.7 1416.7,720.9 1419.8,723.2 1422.9,725.4 1426.0,727.6 1429.0,729.8 1432.1,732.0 1435.2,734.2 1438.3,736.4 1441.4,738.5 1444.4,740.7 1447.5,742.9 1450.6,745.0 1453.7,747.2 1456.7,749.3 1459.8,751.4 1462.9,753.5 1466.0,755.6 1469.0,757.7 1472.1,759.8 1475.2,761.9 1478.3,764.0 1481.3,766.1 1484.4,768.1 1487.5,770.2 1490.6,772.2 1493.6,774.3 1496.7,776.3 1499.8,778.3 1502.9,780.3 1505.9,782.3 1509.0,784.3 1512.1,786.3 1515.2,788.3 1518.2,790.3 1521.3,792.3 1524.4,794.2 1527.5,796.2 1530.5,798.1 1533.6,800.0 1536.7,802.0 1539.8,803.9 1542.8,805.8 1545.9,807.7 1549.0,809.6 1552.1,811.5 1555.1,813.4 1558.2,815.3 1561.3,817.1 1564.4,819.0 1567.4,820.8 1570.5,822.7 1573.6,824.5 1576.7,826.3 1579.8,828.1 1582.8,829.9 1585.9,831.7 1589.0,833.5 1592.1,835.3 1595.1,837.1 1598.2,838.9 1601.3,840.6 1604.4,842.4 1607.4,844.1 1610.5,845.9 1613.6,847.6 1616.7,849.3 1619.7,851.0 1622.8,852.7 1625.9,854.4 1629.0,856.1 1632.0,857.8 1635.1,859.4 1638.2,861.1 1641.3,862.7 1644.3,864.4 1647.4,866.0 1650.5,867.6 1653.6,869.3 1656.6,870.9 1659.7,872.5 1662.8,874.0 1665.9,875.6 1668.9,877.2 1672.0,878.8 1675.1,880.3 1678.2,881.8 1681.2,883.4 1684.3,884.9 1687.4,886.4 1690.5,887.9 1693.5,889.4 1696.6,890.9 1699.7,892.4 1702.8,893.9 1705.8,895.3 1708.9,896.8 1712.0,898.2" fill="none" stroke="#781e8c" stroke-width="3.0" stroke-linejoin="round"/><polyline points="328.0,943.1 331.1,941.0 334.2,938.8 337.2,936.7 340.3,934.4 343.4,932.1 346.5,929.8 349.5,927.4 352.6,925.0 355.7,922.5 358.8,920.0 361.8,917.4 364.9,914.8 368.0,912.1 371.1,909.4 374.1,906.6 377.2,903.8 380.3,900.9 383.4,898.0 386.4,895.1 389.5,892.1 392.6,889.0 395.7,886.0 398.7,882.8 401.8,879.6 404.9,876.4 408.0,873.2 411.0,869.9 414.1,866.5 417.2,863.1 420.3,859.7 423.3,856.2 426.4,852.7 429.5,849.2 432.6,845.6 435.6,842.0 438.7,838.4 441.8,834.7 444.9,831.0 447.9,827.3 451.0,823.6 454.1,819.8 457.2,816.0 460.2,812.2 463.3,808.3 466.4,804.4 469.5,800.6 472.6,796.7 475.6,792.7 478.7,788.8 481.8,784.9 484.9,780.9 487.9,777.0 491.0,773.0 494.1,769.0 497.2,765.0 500.2,761.0 503.3,757.1 506.4,753.1 509.5,749.1 512.5,745.1 515.6,741.1 518.7,737.1 521.8,733.2 524.8,729.2 527.9,725.3 531.0,721.3 534.1,717.4 537.1,713.5 540.2,709.5 543.3,705.7 546.4,701.8 549.4,697.9 552.5,694.1 555.6,690.2 558.7,686.4 561.7,682.6 564.8,678.8 567.9,675.1 571.0,671.3 574.0,667.6 577.1,663.9 580.2,660.2 583.3,656.6 586.3,653.0 589.4,649.3 592.5,645.7 595.6,642.2 598.6,638.6 601.7,635.1 604.8,631.6 607.9,628.1 611.0,624.6 614.0,621.2 617.1,617.7 620.2,614.3 623.3,610.9 626.3,607.6 629.4,604.2 632.5,600.9 635.6,597.6 638.6,594.3 641.7,591.0 644.8,587.7 647.9,584.5 650.9,581.2 654.0,578.0 657.1,574.8 660.2,571.7 663.2,568.5 666.3,565.3 669.4,562.2 672.5,559.1 675.5,556.0 678.6,552.9 681.7,549.8 684.8,546.7 687.8,543.7 690.9,540.7 694.0,537.6 697.1,534.6 700.1,531.6 703.2,528.6 706.3,525.7 709.4,522.7 712.4,519.8 715.5,516.9 718.6,513.9 721.7,511.1 724.7,508.2 727.8,505.3 730.9,502.5 734.0,499.6 737.0,496.8 740.1,494.0 743.2,491.3 746.3,488.5 749.4,485.8 752.4,483.1 755.5,480.4 758.6,477.7 761.7,475.1 764.7,472.4 767.8,469.8 770.9,467.3 774.0,464.7 777.0,462.2 780.1,459.7 783.2,457.2 786.3,454.8 789.3,452.4 792.4,450.0 795.5,447.7 798.6,445.4 801.6,443.1 804.7,440.9 807.8,438.7 810.9,436.5 813.9,434.4 817.0,432.3 820.1,430.2 823.2,428.2 826.2,426.3 829.3,424.3 832.4,422.4 835.5,420.6 838.5,418.8 841.6,417.1 844.7,415.4 847.8,413.7 850.8,412.1 853.9,410.5 857.0,409.0 860.1,407.5 863.1,406.1 866.2,404.8 869.3,403.4 872.4,402.2 875.4,401.0 878.5,399.8 881.6,398.7 884.7,397.7 887.8,396.7 890.8,395.7 893.9,394.8 897.0,394.0 900.1,393.2 903.1,392.5 906.2,391.8 909.3,391.2 912.4,390.7 915.4,390.2 918.5,389.7 921.6,389.3 924.7,389.0 927.7,388.7 930.8,388.5 933.9,388.3 937.0,388.2 940.0,388.2 943.1,388.2 946.2,388.2 949.3,388.3 952.3,388.5 955.4,388.7 958.5,389.0 961.6,389.3 964.6,389.7 967.7,390.1 970.8,390.6 973.9,391.2 976.9,391.8 980.0,392.4 983.1,393.1 986.2,393.9 989.2,394.7 992.3,395.5 995.4,396.4 998.5,397.4 1001.5,398.3 1004.6,399.4 1007.7,400.5 1010.8,401.6 1013.8,402.8 1016.9,404.0 1020.0,405.3 1023.1,406.6 1026.2,408.0 1029.2,409.4 1032.3,410.8 1035.4,412.3 1038.5,413.9 1041.5,415.4 1044.6,417.0 1047.7,418.7 1050.8,420.4 1053.8,422.1 1056.9,423.8 1060.0,425.6 1063.1,427.5 1066.1,429.3 1069.2,431.2 1072.3,433.2 1075.4,435.1 1078.4,437.1 1081.5,439.1 1084.6,441.2 1087.7,443.3 1090.7,445.4 1093.8,447.5 1096.9,449.7 1100.0,451.9 1103.0,454.1 1106.1,456.3 1109.2,458.6 1112.3,460.9 1115.3,463.2 1118.4,465.5 1121.5,467.8 1124.6,470.2 1127.6,472.6 1130.7,475.0 1133.8,477.4 1136.9,479.9 1139.9,482.3 1143.0,484.8 1146.1,487.3 1149.2,489.8 1152.2,492.3 1155.3,494.9 1158.4,497.4 1161.5,500.0 1164.6,502.5 1167.6,505.1 1170.7,507.7 1173.8,510.3 1176.9,512.9 1179.9,515.5 1183.0,518.1 1186.1,520.8 1189.2,523.4 1192.2,526.0 1195.3,528.7 1198.4,531.3 1201.5,534.0 1204.5,536.7 1207.6,539.3 1210.7,542.0 1213.8,544.7 1216.8,547.3 1219.9,550.0 1223.0,552.7 1226.1,555.4 1229.1,558.0 1232.2,560.7 1235.3,563.4 1238.4,566.1 1241.4,568.8 1244.5,571.4 1247.6,574.1 1250.7,576.8 1253.7,579.5 1256.8,582.1 1259.9,584.8 1263.0,587.4 1266.0,590.1 1269.1,592.8 1272.2,595.4 1275.3,598.0 1278.3,600.7 1281.4,603.3 1284.5,606.0 1287.6,608.6 1290.6,611.2 1293.7,613.8 1296.8,616.4 1299.9,619.0 1303.0,621.6 1306.0,624.2 1309.1,626.8 1312.2,629.4 1315.3,631.9 1318.3,634.5 1321.4,637.1 1324.5,639.6 1327.6,642.2 1330.6,644.7 1333.7,647.2 1336.8,649.7 1339.9,652.3 1342.9,654.8 1346.0,657.3 1349.1,659.7 1352.2,662.2 1355.2,664.7 1358.3,667.2 1361.4,669.6 1364.5,672.1 1367.5,674.5 1370.6,676.9 1373.7,679.4 1376.8,681.8 1379.8,684.2 1382.9,686.6 1386.0,689.0 1389.1,691.3 1392.1,693.7 1395.2,696.1 1398.3,698.4 1401.4,700.8 1404.4,703.1 1407.5,705.5 1410.6,707.8 1413.7,710.1 1416.7,712.4 1419.8,714.7 1422.9,717.0 1426.0,719.3 1429.0,721.5 1432.1,723.8 1435.2,726.1 1438.3,728.3 1441.4,730.5 1444.4,732.8 1447.5,735.0 1450.6,737.2 1453.7,739.4 1456.7,741.6 1459.8,743.8 1462.9,746.0 1466.0,748.1 1469.0,750.3 1472.1,752.5 1475.2,754.6 1478.3,756.7 1481.3,758.9 1484.4,761.0 1487.5,763.1 1490.6,765.2 1493.6,767.3 1496.7,769.4 1499.8,771.5 1502.9,773.6 1505.9,775.6 1509.0,777.7 1512.1,779.7 1515.2,781.8 1518.2,783.8 1521.3,785.8 1524.4,787.8 1527.5,789.8 1530.5,791.8 1533.6,793.8 1536.7,795.8 1539.8,797.8 1542.8,799.8 1545.9,801.7 1549.0,803.7 1552.1,805.6 1555.1,807.6 1558.2,809.5 1561.3,811.4 1564.4,813.3 1567.4,815.2 1570.5,817.1 1573.6,819.0 1576.7,820.9 1579.8,822.7 1582.8,824.6 1585.9,826.4 1589.0,828.3 1592.1,830.1 1595.1,832.0 1598.2,833.8 1601.3,835.6 1604.4,837.4 1607.4,839.2 1610.5,841.0 1613.6,842.7 1616.7,844.5 1619.7,846.3 1622.8,848.0 1625.9,849.8 1629.0,851.5 1632.0,853.2 1635.1,854.9 1638.2,856.6 1641.3,858.3 1644.3,860.0 1647.4,861.7 1650.5,863.4 1653.6,865.0 1656.6,866.7 1659.7,868.3 1662.8,869.9 1665.9,871.6 1668.9,873.2 1672.0,874.8 1675.1,876.4 1678.2,878.0 1681.2,879.5 1684.3,881.1 1687.4,882.7 1690.5,884.2 1693.5,885.8 1696.6,887.3 1699.7,888.8 1702.8,890.3 1705.8,891.8 1708.9,893.3 1712.0,894.8" fill="none" stroke="#1c1ce0" stroke-width="3.2" stroke-linejoin="round"/><polyline points="328.0,940.4 331.1,938.3 334.2,936.0 337.2,933.8 340.3,931.5 343.4,929.1 346.5,926.7 349.5,924.2 352.6,921.7 355.7,919.1 358.8,916.5 361.8,913.9 364.9,911.2 368.0,908.4 371.1,905.6 374.1,902.7 377.2,899.8 380.3,896.9 383.4,893.8 386.4,890.8 389.5,887.7 392.6,884.5 395.7,881.3 398.7,878.1 401.8,874.8 404.9,871.5 408.0,868.1 411.0,864.7 414.1,861.2 417.2,857.7 420.3,854.2 423.3,850.6 426.4,847.0 429.5,843.3 432.6,839.6 435.6,835.9 438.7,832.1 441.8,828.3 444.9,824.5 447.9,820.7 451.0,816.8 454.1,812.9 457.2,808.9 460.2,805.0 463.3,801.0 466.4,797.0 469.5,793.0 472.6,789.0 475.6,784.9 478.7,780.8 481.8,776.8 484.9,772.7 487.9,768.6 491.0,764.5 494.1,760.4 497.2,756.3 500.2,752.2 503.3,748.0 506.4,743.9 509.5,739.8 512.5,735.7 515.6,731.6 518.7,727.5 521.8,723.4 524.8,719.3 527.9,715.2 531.0,711.2 534.1,707.1 537.1,703.1 540.2,699.1 543.3,695.1 546.4,691.1 549.4,687.1 552.5,683.1 555.6,679.2 558.7,675.3 561.7,671.4 564.8,667.5 567.9,663.6 571.0,659.8 574.0,655.9 577.1,652.1 580.2,648.4 583.3,644.6 586.3,640.9 589.4,637.2 592.5,633.5 595.6,629.8 598.6,626.2 601.7,622.5 604.8,618.9 607.9,615.3 611.0,611.8 614.0,608.2 617.1,604.7 620.2,601.2 623.3,597.7 626.3,594.3 629.4,590.8 632.5,587.4 635.6,584.0 638.6,580.6 641.7,577.2 644.8,573.9 647.9,570.5 650.9,567.2 654.0,563.9 657.1,560.6 660.2,557.3 663.2,554.1 666.3,550.8 669.4,547.6 672.5,544.4 675.5,541.2 678.6,538.0 681.7,534.8 684.8,531.6 687.8,528.5 690.9,525.4 694.0,522.2 697.1,519.1 700.1,516.0 703.2,512.9 706.3,509.8 709.4,506.8 712.4,503.7 715.5,500.7 718.6,497.7 721.7,494.7 724.7,491.7 727.8,488.7 730.9,485.8 734.0,482.8 737.0,479.9 740.1,477.0 743.2,474.1 746.3,471.2 749.4,468.4 752.4,465.5 755.5,462.7 758.6,459.9 761.7,457.2 764.7,454.4 767.8,451.7 770.9,449.0 774.0,446.4 777.0,443.7 780.1,441.1 783.2,438.5 786.3,436.0 789.3,433.5 792.4,431.0 795.5,428.5 798.6,426.1 801.6,423.7 804.7,421.3 807.8,419.0 810.9,416.7 813.9,414.5 817.0,412.3 820.1,410.1 823.2,408.0 826.2,405.9 829.3,403.9 832.4,401.9 835.5,399.9 838.5,398.0 841.6,396.2 844.7,394.4 847.8,392.6 850.8,390.9 853.9,389.2 857.0,387.6 860.1,386.1 863.1,384.6 866.2,383.1 869.3,381.7 872.4,380.3 875.4,379.1 878.5,377.8 881.6,376.6 884.7,375.5 887.8,374.4 890.8,373.4 893.9,372.4 897.0,371.5 900.1,370.7 903.1,369.9 906.2,369.1 909.3,368.4 912.4,367.8 915.4,367.2 918.5,366.7 921.6,366.3 924.7,365.9 927.7,365.6 930.8,365.3 933.9,365.1 937.0,364.9 940.0,364.8 943.1,364.8 946.2,364.8 949.3,364.8 952.3,365.0 955.4,365.2 958.5,365.4 961.6,365.7 964.6,366.0 967.7,366.5 970.8,366.9 973.9,367.4 976.9,368.0 980.0,368.6 983.1,369.3 986.2,370.0 989.2,370.8 992.3,371.7 995.4,372.6 998.5,373.5 1001.5,374.5 1004.6,375.5 1007.7,376.6 1010.8,377.7 1013.8,378.9 1016.9,380.2 1020.0,381.4 1023.1,382.8 1026.2,384.1 1029.2,385.6 1032.3,387.0 1035.4,388.5 1038.5,390.1 1041.5,391.7 1044.6,393.3 1047.7,395.0 1050.8,396.7 1053.8,398.4 1056.9,400.2 1060.0,402.0 1063.1,403.9 1066.1,405.8 1069.2,407.7 1072.3,409.7 1075.4,411.7 1078.4,413.7 1081.5,415.8 1084.6,417.9 1087.7,420.0 1090.7,422.1 1093.8,424.3 1096.9,426.5 1100.0,428.8 1103.0,431.1 1106.1,433.3 1109.2,435.7 1112.3,438.0 1115.3,440.4 1118.4,442.8 1121.5,445.2 1124.6,447.6 1127.6,450.1 1130.7,452.5 1133.8,455.0 1136.9,457.5 1139.9,460.1 1143.0,462.6 1146.1,465.2 1149.2,467.8 1152.2,470.4 1155.3,473.0 1158.4,475.6 1161.5,478.2 1164.6,480.9 1167.6,483.5 1170.7,486.2 1173.8,488.9 1176.9,491.6 1179.9,494.3 1183.0,497.0 1186.1,499.7 1189.2,502.4 1192.2,505.1 1195.3,507.9 1198.4,510.6 1201.5,513.4 1204.5,516.1 1207.6,518.9 1210.7,521.7 1213.8,524.4 1216.8,527.2 1219.9,530.0 1223.0,532.7 1226.1,535.5 1229.1,538.3 1232.2,541.1 1235.3,543.8 1238.4,546.6 1241.4,549.4 1244.5,552.2 1247.6,555.0 1250.7,557.7 1253.7,560.5 1256.8,563.3 1259.9,566.0 1263.0,568.8 1266.0,571.6 1269.1,574.3 1272.2,577.1 1275.3,579.8 1278.3,582.6 1281.4,585.3 1284.5,588.0 1287.6,590.8 1290.6,593.5 1293.7,596.2 1296.8,598.9 1299.9,601.7 1303.0,604.4 1306.0,607.1 1309.1,609.7 1312.2,612.4 1315.3,615.1 1318.3,617.8 1321.4,620.4 1324.5,623.1 1327.6,625.7 1330.6,628.4 1333.7,631.0 1336.8,633.6 1339.9,636.3 1342.9,638.9 1346.0,641.5 1349.1,644.1 1352.2,646.7 1355.2,649.2 1358.3,651.8 1361.4,654.4 1364.5,656.9 1367.5,659.5 1370.6,662.0 1373.7,664.5 1376.8,667.1 1379.8,669.6 1382.9,672.1 1386.0,674.6 1389.1,677.1 1392.1,679.5 1395.2,682.0 1398.3,684.5 1401.4,686.9 1404.4,689.4 1407.5,691.8 1410.6,694.2 1413.7,696.6 1416.7,699.0 1419.8,701.4 1422.9,703.8 1426.0,706.2 1429.0,708.6 1432.1,710.9 1435.2,713.3 1438.3,715.7 1441.4,718.0 1444.4,720.3 1447.5,722.6 1450.6,724.9 1453.7,727.3 1456.7,729.5 1459.8,731.8 1462.9,734.1 1466.0,736.4 1469.0,738.6 1472.1,740.9 1475.2,743.1 1478.3,745.4 1481.3,747.6 1484.4,749.8 1487.5,752.0 1490.6,754.2 1493.6,756.4 1496.7,758.6 1499.8,760.8 1502.9,762.9 1505.9,765.1 1509.0,767.2 1512.1,769.4 1515.2,771.5 1518.2,773.6 1521.3,775.7 1524.4,777.8 1527.5,779.9 1530.5,782.0 1533.6,784.1 1536.7,786.2 1539.8,788.2 1542.8,790.3 1545.9,792.3 1549.0,794.4 1552.1,796.4 1555.1,798.4 1558.2,800.4 1561.3,802.4 1564.4,804.4 1567.4,806.4 1570.5,808.4 1573.6,810.4 1576.7,812.3 1579.8,814.3 1582.8,816.2 1585.9,818.1 1589.0,820.1 1592.1,822.0 1595.1,823.9 1598.2,825.8 1601.3,827.7 1604.4,829.6 1607.4,831.4 1610.5,833.3 1613.6,835.1 1616.7,837.0 1619.7,838.8 1622.8,840.6 1625.9,842.5 1629.0,844.3 1632.0,846.1 1635.1,847.9 1638.2,849.6 1641.3,851.4 1644.3,853.2 1647.4,854.9 1650.5,856.7 1653.6,858.4 1656.6,860.1 1659.7,861.8 1662.8,863.5 1665.9,865.2 1668.9,866.9 1672.0,868.6 1675.1,870.2 1678.2,871.9 1681.2,873.5 1684.3,875.2 1687.4,876.8 1690.5,878.4 1693.5,880.0 1696.6,881.6 1699.7,883.2 1702.8,884.8 1705.8,886.3 1708.9,887.9 1712.0,889.4" fill="none" stroke="#1c8a30" stroke-width="3.0" stroke-linejoin="round"/><polyline points="328.0,935.5 331.1,933.2 334.2,930.8 337.2,928.4 340.3,926.0 343.4,923.5 346.5,920.9 349.5,918.3 352.6,915.6 355.7,912.9 358.8,910.1 361.8,907.3 364.9,904.4 368.0,901.5 371.1,898.5 374.1,895.5 377.2,892.4 380.3,889.3 383.4,886.1 386.4,882.8 389.5,879.5 392.6,876.2 395.7,872.8 398.7,869.4 401.8,865.9 404.9,862.3 408.0,858.7 411.0,855.1 414.1,851.4 417.2,847.7 420.3,843.9 423.3,840.1 426.4,836.3 429.5,832.4 432.6,828.5 435.6,824.5 438.7,820.5 441.8,816.5 444.9,812.4 447.9,808.3 451.0,804.2 454.1,800.0 457.2,795.9 460.2,791.7 463.3,787.4 466.4,783.2 469.5,778.9 472.6,774.6 475.6,770.4 478.7,766.0 481.8,761.7 484.9,757.4 487.9,753.1 491.0,748.7 494.1,744.4 497.2,740.0 500.2,735.6 503.3,731.3 506.4,726.9 509.5,722.6 512.5,718.2 515.6,713.9 518.7,709.6 521.8,705.3 524.8,700.9 527.9,696.6 531.0,692.4 534.1,688.1 537.1,683.8 540.2,679.6 543.3,675.4 546.4,671.2 549.4,667.0 552.5,662.8 555.6,658.7 558.7,654.5 561.7,650.4 564.8,646.4 567.9,642.3 571.0,638.3 574.0,634.2 577.1,630.3 580.2,626.3 583.3,622.4 586.3,618.4 589.4,614.5 592.5,610.7 595.6,606.8 598.6,603.0 601.7,599.2 604.8,595.4 607.9,591.7 611.0,587.9 614.0,584.2 617.1,580.5 620.2,576.9 623.3,573.2 626.3,569.6 629.4,566.0 632.5,562.4 635.6,558.8 638.6,555.2 641.7,551.7 644.8,548.2 647.9,544.6 650.9,541.2 654.0,537.7 657.1,534.2 660.2,530.8 663.2,527.3 666.3,523.9 669.4,520.5 672.5,517.1 675.5,513.7 678.6,510.3 681.7,507.0 684.8,503.6 687.8,500.3 690.9,496.9 694.0,493.6 697.1,490.3 700.1,487.0 703.2,483.7 706.3,480.5 709.4,477.2 712.4,474.0 715.5,470.7 718.6,467.5 721.7,464.3 724.7,461.1 727.8,457.9 730.9,454.7 734.0,451.6 737.0,448.4 740.1,445.3 743.2,442.2 746.3,439.1 749.4,436.1 752.4,433.0 755.5,430.0 758.6,427.0 761.7,424.0 764.7,421.0 767.8,418.1 770.9,415.2 774.0,412.3 777.0,409.4 780.1,406.6 783.2,403.8 786.3,401.0 789.3,398.3 792.4,395.5 795.5,392.9 798.6,390.2 801.6,387.6 804.7,385.0 807.8,382.5 810.9,380.0 813.9,377.6 817.0,375.2 820.1,372.8 823.2,370.5 826.2,368.2 829.3,365.9 832.4,363.7 835.5,361.6 838.5,359.5 841.6,357.4 844.7,355.4 847.8,353.5 850.8,351.6 853.9,349.7 857.0,347.9 860.1,346.2 863.1,344.5 866.2,342.9 869.3,341.3 872.4,339.8 875.4,338.3 878.5,336.9 881.6,335.6 884.7,334.3 887.8,333.1 890.8,331.9 893.9,330.8 897.0,329.7 900.1,328.7 903.1,327.8 906.2,327.0 909.3,326.1 912.4,325.4 915.4,324.7 918.5,324.1 921.6,323.5 924.7,323.0 927.7,322.6 930.8,322.2 933.9,321.9 937.0,321.6 940.0,321.5 943.1,321.3 946.2,321.3 949.3,321.3 952.3,321.4 955.4,321.5 958.5,321.8 961.6,322.0 964.6,322.4 967.7,322.8 970.8,323.3 973.9,323.8 976.9,324.4 980.0,325.1 983.1,325.8 986.2,326.6 989.2,327.5 992.3,328.4 995.4,329.4 998.5,330.4 1001.5,331.5 1004.6,332.6 1007.7,333.9 1010.8,335.1 1013.8,336.4 1016.9,337.8 1020.0,339.3 1023.1,340.7 1026.2,342.3 1029.2,343.9 1032.3,345.5 1035.4,347.2 1038.5,348.9 1041.5,350.7 1044.6,352.6 1047.7,354.5 1050.8,356.4 1053.8,358.4 1056.9,360.4 1060.0,362.4 1063.1,364.5 1066.1,366.7 1069.2,368.9 1072.3,371.1 1075.4,373.3 1078.4,375.6 1081.5,378.0 1084.6,380.3 1087.7,382.7 1090.7,385.2 1093.8,387.7 1096.9,390.2 1100.0,392.7 1103.0,395.2 1106.1,397.8 1109.2,400.5 1112.3,403.1 1115.3,405.8 1118.4,408.5 1121.5,411.2 1124.6,413.9 1127.6,416.7 1130.7,419.5 1133.8,422.3 1136.9,425.1 1139.9,427.9 1143.0,430.8 1146.1,433.7 1149.2,436.6 1152.2,439.5 1155.3,442.4 1158.4,445.4 1161.5,448.3 1164.6,451.3 1167.6,454.2 1170.7,457.2 1173.8,460.2 1176.9,463.2 1179.9,466.2 1183.0,469.2 1186.1,472.3 1189.2,475.3 1192.2,478.3 1195.3,481.4 1198.4,484.4 1201.5,487.5 1204.5,490.5 1207.6,493.6 1210.7,496.6 1213.8,499.7 1216.8,502.7 1219.9,505.8 1223.0,508.9 1226.1,511.9 1229.1,515.0 1232.2,518.0 1235.3,521.1 1238.4,524.1 1241.4,527.1 1244.5,530.2 1247.6,533.2 1250.7,536.2 1253.7,539.2 1256.8,542.3 1259.9,545.3 1263.0,548.3 1266.0,551.3 1269.1,554.2 1272.2,557.2 1275.3,560.2 1278.3,563.2 1281.4,566.1 1284.5,569.0 1287.6,572.0 1290.6,574.9 1293.7,577.8 1296.8,580.7 1299.9,583.6 1303.0,586.5 1306.0,589.4 1309.1,592.2 1312.2,595.1 1315.3,597.9 1318.3,600.8 1321.4,603.6 1324.5,606.4 1327.6,609.2 1330.6,612.0 1333.7,614.7 1336.8,617.5 1339.9,620.2 1342.9,623.0 1346.0,625.7 1349.1,628.4 1352.2,631.1 1355.2,633.8 1358.3,636.5 1361.4,639.1 1364.5,641.8 1367.5,644.5 1370.6,647.1 1373.7,649.7 1376.8,652.4 1379.8,655.0 1382.9,657.6 1386.0,660.2 1389.1,662.8 1392.1,665.4 1395.2,667.9 1398.3,670.5 1401.4,673.0 1404.4,675.6 1407.5,678.1 1410.6,680.7 1413.7,683.2 1416.7,685.7 1419.8,688.2 1422.9,690.7 1426.0,693.2 1429.0,695.6 1432.1,698.1 1435.2,700.6 1438.3,703.0 1441.4,705.4 1444.4,707.9 1447.5,710.3 1450.6,712.7 1453.7,715.1 1456.7,717.5 1459.8,719.9 1462.9,722.2 1466.0,724.6 1469.0,727.0 1472.1,729.3 1475.2,731.7 1478.3,734.0 1481.3,736.3 1484.4,738.6 1487.5,740.9 1490.6,743.2 1493.6,745.5 1496.7,747.8 1499.8,750.0 1502.9,752.3 1505.9,754.5 1509.0,756.8 1512.1,759.0 1515.2,761.2 1518.2,763.4 1521.3,765.6 1524.4,767.8 1527.5,770.0 1530.5,772.2 1533.6,774.4 1536.7,776.5 1539.8,778.7 1542.8,780.8 1545.9,783.0 1549.0,785.1 1552.1,787.2 1555.1,789.3 1558.2,791.4 1561.3,793.5 1564.4,795.6 1567.4,797.6 1570.5,799.7 1573.6,801.7 1576.7,803.8 1579.8,805.8 1582.8,807.8 1585.9,809.8 1589.0,811.8 1592.1,813.8 1595.1,815.8 1598.2,817.8 1601.3,819.8 1604.4,821.7 1607.4,823.7 1610.5,825.6 1613.6,827.5 1616.7,829.5 1619.7,831.4 1622.8,833.3 1625.9,835.2 1629.0,837.0 1632.0,838.9 1635.1,840.8 1638.2,842.6 1641.3,844.5 1644.3,846.3 1647.4,848.1 1650.5,849.9 1653.6,851.8 1656.6,853.5 1659.7,855.3 1662.8,857.1 1665.9,858.9 1668.9,860.6 1672.0,862.4 1675.1,864.1 1678.2,865.8 1681.2,867.5 1684.3,869.2 1687.4,870.9 1690.5,872.6 1693.5,874.3 1696.6,875.9 1699.7,877.6 1702.8,879.2 1705.8,880.8 1708.9,882.5 1712.0,884.1" fill="none" stroke="#8c8c2a" stroke-width="3.0" stroke-linejoin="round"/><polyline points="328.0,932.6 331.1,930.2 334.2,927.7 337.2,925.3 340.3,922.7 343.4,920.1 346.5,917.5 349.5,914.8 352.6,912.0 355.7,909.2 358.8,906.4 361.8,903.4 364.9,900.5 368.0,897.4 371.1,894.3 374.1,891.2 377.2,888.0 380.3,884.8 383.4,881.5 386.4,878.1 389.5,874.7 392.6,871.2 395.7,867.7 398.7,864.1 401.8,860.5 404.9,856.9 408.0,853.1 411.0,849.4 414.1,845.6 417.2,841.7 420.3,837.8 423.3,833.9 426.4,829.9 429.5,825.9 432.6,821.8 435.6,817.7 438.7,813.6 441.8,809.4 444.9,805.2 447.9,801.0 451.0,796.7 454.1,792.4 457.2,788.1 460.2,783.7 463.3,779.4 466.4,775.0 469.5,770.6 472.6,766.1 475.6,761.7 478.7,757.2 481.8,752.8 484.9,748.3 487.9,743.8 491.0,739.3 494.1,734.8 497.2,730.3 500.2,725.8 503.3,721.3 506.4,716.8 509.5,712.3 512.5,707.9 515.6,703.4 518.7,698.9 521.8,694.5 524.8,690.0 527.9,685.6 531.0,681.2 534.1,676.8 537.1,672.4 540.2,668.0 543.3,663.7 546.4,659.3 549.4,655.0 552.5,650.7 555.6,646.5 558.7,642.2 561.7,638.0 564.8,633.8 567.9,629.6 571.0,625.5 574.0,621.3 577.1,617.2 580.2,613.2 583.3,609.1 586.3,605.1 589.4,601.1 592.5,597.1 595.6,593.2 598.6,589.2 601.7,585.3 604.8,581.4 607.9,577.6 611.0,573.7 614.0,569.9 617.1,566.1 620.2,562.4 623.3,558.6 626.3,554.9 629.4,551.2 632.5,547.5 635.6,543.8 638.6,540.1 641.7,536.5 644.8,532.9 647.9,529.2 650.9,525.7 654.0,522.1 657.1,518.5 660.2,514.9 663.2,511.4 666.3,507.9 669.4,504.4 672.5,500.8 675.5,497.4 678.6,493.9 681.7,490.4 684.8,486.9 687.8,483.5 690.9,480.0 694.0,476.6 697.1,473.2 700.1,469.8 703.2,466.4 706.3,463.0 709.4,459.6 712.4,456.2 715.5,452.9 718.6,449.5 721.7,446.2 724.7,442.9 727.8,439.6 730.9,436.3 734.0,433.0 737.0,429.7 740.1,426.5 743.2,423.2 746.3,420.0 749.4,416.8 752.4,413.6 755.5,410.5 758.6,407.3 761.7,404.2 764.7,401.1 767.8,398.1 770.9,395.0 774.0,392.0 777.0,389.0 780.1,386.0 783.2,383.1 786.3,380.2 789.3,377.3 792.4,374.5 795.5,371.7 798.6,368.9 801.6,366.2 804.7,363.5 807.8,360.8 810.9,358.2 813.9,355.6 817.0,353.1 820.1,350.6 823.2,348.1 826.2,345.7 829.3,343.3 832.4,341.0 835.5,338.8 838.5,336.6 841.6,334.4 844.7,332.3 847.8,330.2 850.8,328.2 853.9,326.2 857.0,324.3 860.1,322.5 863.1,320.7 866.2,319.0 869.3,317.3 872.4,315.7 875.4,314.1 878.5,312.6 881.6,311.2 884.7,309.8 887.8,308.5 890.8,307.2 893.9,306.0 897.0,304.9 900.1,303.8 903.1,302.8 906.2,301.9 909.3,301.0 912.4,300.2 915.4,299.4 918.5,298.7 921.6,298.1 924.7,297.5 927.7,297.0 930.8,296.6 933.9,296.2 937.0,295.9 940.0,295.7 943.1,295.5 946.2,295.4 949.3,295.3 952.3,295.4 955.4,295.5 958.5,295.6 961.6,295.8 964.6,296.1 967.7,296.5 970.8,296.9 973.9,297.4 976.9,297.9 980.0,298.5 983.1,299.2 986.2,299.9 989.2,300.7 992.3,301.6 995.4,302.5 998.5,303.4 1001.5,304.5 1004.6,305.6 1007.7,306.7 1010.8,307.9 1013.8,309.2 1016.9,310.5 1020.0,311.8 1023.1,313.3 1026.2,314.7 1029.2,316.3 1032.3,317.8 1035.4,319.5 1038.5,321.1 1041.5,322.9 1044.6,324.6 1047.7,326.5 1050.8,328.3 1053.8,330.2 1056.9,332.2 1060.0,334.2 1063.1,336.2 1066.1,338.3 1069.2,340.5 1072.3,342.6 1075.4,344.8 1078.4,347.1 1081.5,349.4 1084.6,351.7 1087.7,354.1 1090.7,356.4 1093.8,358.9 1096.9,361.3 1100.0,363.8 1103.0,366.3 1106.1,368.9 1109.2,371.5 1112.3,374.1 1115.3,376.7 1118.4,379.4 1121.5,382.1 1124.6,384.8 1127.6,387.5 1130.7,390.3 1133.8,393.1 1136.9,395.9 1139.9,398.7 1143.0,401.6 1146.1,404.5 1149.2,407.3 1152.2,410.2 1155.3,413.2 1158.4,416.1 1161.5,419.1 1164.6,422.0 1167.6,425.0 1170.7,428.0 1173.8,431.0 1176.9,434.0 1179.9,437.1 1183.0,440.1 1186.1,443.1 1189.2,446.2 1192.2,449.3 1195.3,452.3 1198.4,455.4 1201.5,458.5 1204.5,461.6 1207.6,464.7 1210.7,467.8 1213.8,470.9 1216.8,474.0 1219.9,477.1 1223.0,480.2 1226.1,483.3 1229.1,486.5 1232.2,489.6 1235.3,492.7 1238.4,495.8 1241.4,498.9 1244.5,502.0 1247.6,505.1 1250.7,508.2 1253.7,511.3 1256.8,514.4 1259.9,517.5 1263.0,520.6 1266.0,523.7 1269.1,526.8 1272.2,529.9 1275.3,533.0 1278.3,536.0 1281.4,539.1 1284.5,542.1 1287.6,545.2 1290.6,548.2 1293.7,551.3 1296.8,554.3 1299.9,557.3 1303.0,560.3 1306.0,563.3 1309.1,566.3 1312.2,569.3 1315.3,572.3 1318.3,575.2 1321.4,578.2 1324.5,581.2 1327.6,584.1 1330.6,587.0 1333.7,589.9 1336.8,592.9 1339.9,595.8 1342.9,598.6 1346.0,601.5 1349.1,604.4 1352.2,607.3 1355.2,610.1 1358.3,612.9 1361.4,615.8 1364.5,618.6 1367.5,621.4 1370.6,624.2 1373.7,627.0 1376.8,629.8 1379.8,632.6 1382.9,635.4 1386.0,638.1 1389.1,640.9 1392.1,643.6 1395.2,646.3 1398.3,649.1 1401.4,651.8 1404.4,654.5 1407.5,657.2 1410.6,659.9 1413.7,662.5 1416.7,665.2 1419.8,667.9 1422.9,670.5 1426.0,673.2 1429.0,675.8 1432.1,678.4 1435.2,681.0 1438.3,683.6 1441.4,686.2 1444.4,688.8 1447.5,691.3 1450.6,693.9 1453.7,696.5 1456.7,699.0 1459.8,701.5 1462.9,704.1 1466.0,706.6 1469.0,709.1 1472.1,711.6 1475.2,714.1 1478.3,716.5 1481.3,719.0 1484.4,721.5 1487.5,723.9 1490.6,726.3 1493.6,728.8 1496.7,731.2 1499.8,733.6 1502.9,736.0 1505.9,738.4 1509.0,740.8 1512.1,743.1 1515.2,745.5 1518.2,747.8 1521.3,750.2 1524.4,752.5 1527.5,754.8 1530.5,757.1 1533.6,759.4 1536.7,761.7 1539.8,764.0 1542.8,766.3 1545.9,768.6 1549.0,770.8 1552.1,773.1 1555.1,775.3 1558.2,777.5 1561.3,779.7 1564.4,781.9 1567.4,784.1 1570.5,786.3 1573.6,788.5 1576.7,790.7 1579.8,792.8 1582.8,795.0 1585.9,797.1 1589.0,799.2 1592.1,801.4 1595.1,803.5 1598.2,805.6 1601.3,807.6 1604.4,809.7 1607.4,811.8 1610.5,813.9 1613.6,815.9 1616.7,817.9 1619.7,820.0 1622.8,822.0 1625.9,824.0 1629.0,826.0 1632.0,828.0 1635.1,829.9 1638.2,831.9 1641.3,833.9 1644.3,835.8 1647.4,837.7 1650.5,839.7 1653.6,841.6 1656.6,843.5 1659.7,845.4 1662.8,847.3 1665.9,849.1 1668.9,851.0 1672.0,852.8 1675.1,854.7 1678.2,856.5 1681.2,858.3 1684.3,860.1 1687.4,861.9 1690.5,863.7 1693.5,865.5 1696.6,867.2 1699.7,869.0 1702.8,870.7 1705.8,872.4 1708.9,874.1 1712.0,875.9" fill="none" stroke="#f08a30" stroke-width="3.2" stroke-linejoin="round"/><polyline points="328.0,930.9 331.1,928.4 334.2,926.0 337.2,923.4 340.3,920.8 343.4,918.2 346.5,915.5 349.5,912.8 352.6,909.9 355.7,907.1 358.8,904.2 361.8,901.2 364.9,898.2 368.0,895.1 371.1,891.9 374.1,888.7 377.2,885.5 380.3,882.1 383.4,878.8 386.4,875.4 389.5,871.9 392.6,868.4 395.7,864.8 398.7,861.1 401.8,857.5 404.9,853.7 408.0,849.9 411.0,846.1 414.1,842.2 417.2,838.3 420.3,834.3 423.3,830.3 426.4,826.2 429.5,822.1 432.6,818.0 435.6,813.8 438.7,809.6 441.8,805.3 444.9,801.0 447.9,796.7 451.0,792.4 454.1,788.0 457.2,783.6 460.2,779.2 463.3,774.7 466.4,770.2 469.5,765.7 472.6,761.2 475.6,756.7 478.7,752.2 481.8,747.6 484.9,743.0 487.9,738.5 491.0,733.9 494.1,729.3 497.2,724.7 500.2,720.2 503.3,715.6 506.4,711.0 509.5,706.4 512.5,701.9 515.6,697.3 518.7,692.8 521.8,688.2 524.8,683.7 527.9,679.2 531.0,674.7 534.1,670.2 537.1,665.8 540.2,661.3 543.3,656.9 546.4,652.5 549.4,648.1 552.5,643.7 555.6,639.4 558.7,635.1 561.7,630.8 564.8,626.5 567.9,622.3 571.0,618.1 574.0,613.9 577.1,609.7 580.2,605.6 583.3,601.5 586.3,597.4 589.4,593.3 592.5,589.3 595.6,585.3 598.6,581.3 601.7,577.3 604.8,573.4 607.9,569.4 611.0,565.5 614.0,561.7 617.1,557.8 620.2,554.0 623.3,550.2 626.3,546.4 629.4,542.6 632.5,538.9 635.6,535.1 638.6,531.4 641.7,527.7 644.8,524.0 647.9,520.4 650.9,516.7 654.0,513.1 657.1,509.4 660.2,505.8 663.2,502.2 666.3,498.6 669.4,495.0 672.5,491.5 675.5,487.9 678.6,484.4 681.7,480.8 684.8,477.3 687.8,473.8 690.9,470.3 694.0,466.8 697.1,463.3 700.1,459.8 703.2,456.3 706.3,452.9 709.4,449.4 712.4,446.0 715.5,442.6 718.6,439.2 721.7,435.7 724.7,432.4 727.8,429.0 730.9,425.6 734.0,422.3 737.0,418.9 740.1,415.6 743.2,412.3 746.3,409.0 749.4,405.7 752.4,402.5 755.5,399.2 758.6,396.0 761.7,392.8 764.7,389.6 767.8,386.5 770.9,383.4 774.0,380.3 777.0,377.2 780.1,374.2 783.2,371.2 786.3,368.2 789.3,365.2 792.4,362.3 795.5,359.4 798.6,356.6 801.6,353.8 804.7,351.0 807.8,348.3 810.9,345.6 813.9,342.9 817.0,340.3 820.1,337.7 823.2,335.2 826.2,332.7 829.3,330.3 832.4,327.9 835.5,325.6 838.5,323.3 841.6,321.1 844.7,318.9 847.8,316.8 850.8,314.7 853.9,312.7 857.0,310.7 860.1,308.8 863.1,306.9 866.2,305.2 869.3,303.4 872.4,301.7 875.4,300.1 878.5,298.6 881.6,297.1 884.7,295.6 887.8,294.3 890.8,293.0 893.9,291.7 897.0,290.5 900.1,289.4 903.1,288.4 906.2,287.4 909.3,286.5 912.4,285.6 915.4,284.8 918.5,284.1 921.6,283.4 924.7,282.8 927.7,282.3 930.8,281.8 933.9,281.4 937.0,281.1 940.0,280.8 943.1,280.6 946.2,280.4 949.3,280.3 952.3,280.3 955.4,280.4 958.5,280.5 961.6,280.7 964.6,280.9 967.7,281.2 970.8,281.6 973.9,282.0 976.9,282.5 980.0,283.0 983.1,283.7 986.2,284.3 989.2,285.1 992.3,285.8 995.4,286.7 998.5,287.6 1001.5,288.6 1004.6,289.6 1007.7,290.7 1010.8,291.8 1013.8,293.0 1016.9,294.2 1020.0,295.5 1023.1,296.9 1026.2,298.3 1029.2,299.8 1032.3,301.3 1035.4,302.8 1038.5,304.4 1041.5,306.1 1044.6,307.8 1047.7,309.5 1050.8,311.3 1053.8,313.2 1056.9,315.1 1060.0,317.0 1063.1,319.0 1066.1,321.0 1069.2,323.0 1072.3,325.1 1075.4,327.3 1078.4,329.5 1081.5,331.7 1084.6,333.9 1087.7,336.2 1090.7,338.5 1093.8,340.9 1096.9,343.3 1100.0,345.7 1103.0,348.2 1106.1,350.7 1109.2,353.2 1112.3,355.7 1115.3,358.3 1118.4,360.9 1121.5,363.6 1124.6,366.2 1127.6,368.9 1130.7,371.6 1133.8,374.4 1136.9,377.1 1139.9,379.9 1143.0,382.7 1146.1,385.5 1149.2,388.4 1152.2,391.3 1155.3,394.1 1158.4,397.0 1161.5,400.0 1164.6,402.9 1167.6,405.9 1170.7,408.8 1173.8,411.8 1176.9,414.8 1179.9,417.8 1183.0,420.8 1186.1,423.9 1189.2,426.9 1192.2,430.0 1195.3,433.0 1198.4,436.1 1201.5,439.2 1204.5,442.3 1207.6,445.3 1210.7,448.4 1213.8,451.6 1216.8,454.7 1219.9,457.8 1223.0,460.9 1226.1,464.0 1229.1,467.2 1232.2,470.3 1235.3,473.4 1238.4,476.6 1241.4,479.7 1244.5,482.9 1247.6,486.0 1250.7,489.1 1253.7,492.3 1256.8,495.4 1259.9,498.6 1263.0,501.7 1266.0,504.8 1269.1,508.0 1272.2,511.1 1275.3,514.2 1278.3,517.3 1281.4,520.5 1284.5,523.6 1287.6,526.7 1290.6,529.8 1293.7,532.9 1296.8,536.0 1299.9,539.1 1303.0,542.2 1306.0,545.3 1309.1,548.3 1312.2,551.4 1315.3,554.5 1318.3,557.5 1321.4,560.6 1324.5,563.6 1327.6,566.7 1330.6,569.7 1333.7,572.7 1336.8,575.7 1339.9,578.7 1342.9,581.7 1346.0,584.7 1349.1,587.7 1352.2,590.7 1355.2,593.6 1358.3,596.6 1361.4,599.5 1364.5,602.5 1367.5,605.4 1370.6,608.3 1373.7,611.2 1376.8,614.1 1379.8,617.0 1382.9,619.9 1386.0,622.8 1389.1,625.6 1392.1,628.5 1395.2,631.3 1398.3,634.2 1401.4,637.0 1404.4,639.8 1407.5,642.6 1410.6,645.4 1413.7,648.2 1416.7,651.0 1419.8,653.7 1422.9,656.5 1426.0,659.2 1429.0,662.0 1432.1,664.7 1435.2,667.4 1438.3,670.1 1441.4,672.8 1444.4,675.5 1447.5,678.2 1450.6,680.8 1453.7,683.5 1456.7,686.1 1459.8,688.8 1462.9,691.4 1466.0,694.0 1469.0,696.6 1472.1,699.2 1475.2,701.8 1478.3,704.4 1481.3,707.0 1484.4,709.5 1487.5,712.1 1490.6,714.6 1493.6,717.1 1496.7,719.6 1499.8,722.1 1502.9,724.6 1505.9,727.1 1509.0,729.6 1512.1,732.1 1515.2,734.5 1518.2,737.0 1521.3,739.4 1524.4,741.8 1527.5,744.3 1530.5,746.7 1533.6,749.1 1536.7,751.4 1539.8,753.8 1542.8,756.2 1545.9,758.5 1549.0,760.9 1552.1,763.2 1555.1,765.6 1558.2,767.9 1561.3,770.2 1564.4,772.5 1567.4,774.8 1570.5,777.0 1573.6,779.3 1576.7,781.6 1579.8,783.8 1582.8,786.0 1585.9,788.3 1589.0,790.5 1592.1,792.7 1595.1,794.9 1598.2,797.0 1601.3,799.2 1604.4,801.4 1607.4,803.5 1610.5,805.7 1613.6,807.8 1616.7,809.9 1619.7,812.0 1622.8,814.1 1625.9,816.2 1629.0,818.3 1632.0,820.4 1635.1,822.4 1638.2,824.4 1641.3,826.5 1644.3,828.5 1647.4,830.5 1650.5,832.5 1653.6,834.5 1656.6,836.5 1659.7,838.4 1662.8,840.4 1665.9,842.3 1668.9,844.3 1672.0,846.2 1675.1,848.1 1678.2,850.0 1681.2,851.9 1684.3,853.8 1687.4,855.6 1690.5,857.5 1693.5,859.3 1696.6,861.2 1699.7,863.0 1702.8,864.8 1705.8,866.6 1708.9,868.4 1712.0,870.1" fill="none" stroke="#000000" stroke-width="4.0" stroke-linejoin="round"/></g>
<line x1="555" y1="265" x2="555" y2="375" stroke="#1e1e1e" stroke-width="5.5"/>
<polygon points="536,370 574,370 555,415" fill="#000"/>
<g stroke="#2a2a2a" stroke-width="2.5"><line x1="1246.5" y1="405.2" x2="1256.0" y2="405.2"/><line x1="1246.5" y1="152.6" x2="1256.0" y2="152.6"/><line x1="1251.0" y1="342.1" x2="1256.0" y2="342.1"/><line x1="1251.0" y1="278.9" x2="1256.0" y2="278.9"/><line x1="1251.0" y1="215.8" x2="1256.0" y2="215.8"/><line x1="1256.0" y1="405.2" x2="1256.0" y2="414.2"/><line x1="1447.3" y1="405.2" x2="1447.3" y2="414.2"/><line x1="1638.7" y1="405.2" x2="1638.7" y2="414.2"/><line x1="1351.7" y1="405.2" x2="1351.7" y2="410.2"/><line x1="1543.0" y1="405.2" x2="1543.0" y2="410.2"/></g>
<line x1="1256.0" y1="101.0" x2="1256.0" y2="405.2" stroke="#3a3a3a" stroke-width="2.2"/>
<line x1="1287.3" y1="387.5" x2="1674.8" y2="157.3" stroke="#1a1a1a" stroke-width="3"/>
<g fill="#000"><circle cx="1288.7" cy="390.8" r="5.6"/><circle cx="1320.4" cy="369.0" r="5.6"/><circle cx="1352.8" cy="333.8" r="5.6"/><circle cx="1385.2" cy="312.3" r="5.6"/><circle cx="1418.0" cy="283.9" r="5.6"/><circle cx="1450.9" cy="275.3" r="5.6"/><circle cx="1483.3" cy="262.6" r="5.6"/><circle cx="1516.4" cy="244.1" r="5.6"/><circle cx="1548.0" cy="225.6" r="5.6"/><circle cx="1580.0" cy="222.8" r="5.6"/><circle cx="1612.8" cy="204.8" r="5.6"/><circle cx="1645.2" cy="179.8" r="5.6"/><circle cx="1677.1" cy="162.0" r="5.6"/></g>
<text font-family="Liberation Sans, Arial, sans-serif" font-weight="bold" fill="#2a2a2a" font-size="21.5" text-anchor="end" x="1243.5" y="160.1">1.5</text>
<text font-family="Liberation Sans, Arial, sans-serif" font-weight="bold" fill="#2a2a2a" font-size="21.5" text-anchor="end" x="1243.5" y="412.7">1.0</text>
<text font-family="Liberation Sans, Arial, sans-serif" font-weight="bold" fill="#2a2a2a" font-size="21.5" text-anchor="middle" x="1256.0" y="440.5">0</text>
<text font-family="Liberation Sans, Arial, sans-serif" font-weight="bold" fill="#2a2a2a" font-size="21.5" text-anchor="middle" x="1447.3" y="440.5">5</text>
<text font-family="Liberation Sans, Arial, sans-serif" font-weight="bold" fill="#2a2a2a" font-size="21.5" text-anchor="middle" x="1638.7" y="440.5">10</text>
<text font-family="Liberation Sans, Arial, sans-serif" font-weight="bold" fill="#2a2a2a" font-size="28" x="1389" y="476">AgGlyGly [µM]</text>
<text font-family="Liberation Sans, Arial, sans-serif" font-weight="bold" fill="#2a2a2a" font-size="28.5" transform="translate(1162,287) rotate(-90)">F<tspan font-size="20" dy="4">0</tspan><tspan dy="-4"> / F</tspan></text>
<g stroke="#22225e" stroke-width="6" fill="none"><line x1="328.0" y1="100.0" x2="328.0" y2="1024.3"/><line x1="325.0" y1="1021.3" x2="1713.3" y2="1021.3"/><line x1="325.0" y1="103.0" x2="1713.3" y2="103.0"/><line x1="1710.8" y1="100.0" x2="1710.8" y2="1024.3" stroke-width="5"/></g>
<g stroke="#14142a" stroke-width="3.2" fill="none"><line x1="1256.0" y1="101.0" x2="1716.1" y2="101.0"/><line x1="1714.6" y1="101.0" x2="1714.6" y2="406.7"/></g>
<line x1="1255.0" y1="405.2" x2="1716.1" y2="405.2" stroke="#1e1e1e" stroke-width="3"/>
<g stroke="#22225e" stroke-width="6"><line x1="301" y1="1021.3" x2="328.0" y2="1021.3"/><line x1="301" y1="791.7" x2="328.0" y2="791.7"/><line x1="301" y1="562.1" x2="328.0" y2="562.1"/><line x1="301" y1="332.6" x2="328.0" y2="332.6"/><line x1="301" y1="103.0" x2="328.0" y2="103.0"/><line x1="313" y1="906.5" x2="328.0" y2="906.5"/><line x1="313" y1="676.9" x2="328.0" y2="676.9"/><line x1="313" y1="447.4" x2="328.0" y2="447.4"/><line x1="313" y1="217.8" x2="328.0" y2="217.8"/><line x1="328.0" y1="1021.3" x2="328.0" y2="1047"/><line x1="788.9" y1="1021.3" x2="788.9" y2="1047"/><line x1="1249.9" y1="1021.3" x2="1249.9" y2="1047"/><line x1="1710.8" y1="1021.3" x2="1710.8" y2="1047"/><line x1="558.5" y1="1021.3" x2="558.5" y2="1036"/><line x1="1019.4" y1="1021.3" x2="1019.4" y2="1036"/><line x1="1480.3" y1="1021.3" x2="1480.3" y2="1036"/></g>
<text font-family="Liberation Sans, Arial, sans-serif" font-weight="bold" fill="#1c1c1c" stroke="#fdfdfd" stroke-width="1.0" letter-spacing="3.8" font-size="71" text-anchor="end" transform="translate(296.0,1043.3) scale(0.93,1)">0</text>
<text font-family="Liberation Sans, Arial, sans-serif" font-weight="bold" fill="#1c1c1c" stroke="#fdfdfd" stroke-width="1.0" letter-spacing="3.8" font-size="71" text-anchor="end" transform="translate(296.0,813.7) scale(0.93,1)">100</text>
<text font-family="Liberation Sans, Arial, sans-serif" font-weight="bold" fill="#1c1c1c" stroke="#fdfdfd" stroke-width="1.0" letter-spacing="3.8" font-size="71" text-anchor="end" transform="translate(296.0,584.1) scale(0.93,1)">200</text>
<text font-family="Liberation Sans, Arial, sans-serif" font-weight="bold" fill="#1c1c1c" stroke="#fdfdfd" stroke-width="1.0" letter-spacing="3.8" font-size="71" text-anchor="end" transform="translate(296.0,354.6) scale(0.93,1)">300</text>
<text font-family="Liberation Sans, Arial, sans-serif" font-weight="bold" fill="#1c1c1c" stroke="#fdfdfd" stroke-width="1.0" letter-spacing="3.8" font-size="71" text-anchor="end" transform="translate(296.0,125.0) scale(0.93,1)">400</text>
<text font-family="Liberation Sans, Arial, sans-serif" font-weight="bold" fill="#1c1c1c" stroke="#fdfdfd" stroke-width="1.0" letter-spacing="3.8" font-size="71" text-anchor="middle" transform="translate(329.8,1124.3) scale(0.93,1)">400</text>
<text font-family="Liberation Sans, Arial, sans-serif" font-weight="bold" fill="#1c1c1c" stroke="#fdfdfd" stroke-width="1.0" letter-spacing="3.8" font-size="71" text-anchor="middle" transform="translate(790.7,1124.3) scale(0.93,1)">450</text>
<text font-family="Liberation Sans, Arial, sans-serif" font-weight="bold" fill="#1c1c1c" stroke="#fdfdfd" stroke-width="1.0" letter-spacing="3.8" font-size="71" text-anchor="middle" transform="translate(1251.6,1124.3) scale(0.93,1)">500</text>
<text font-family="Liberation Sans, Arial, sans-serif" font-weight="bold" fill="#1c1c1c" stroke="#fdfdfd" stroke-width="1.0" letter-spacing="3.8" font-size="71" text-anchor="middle" transform="translate(1712.6,1124.3) scale(0.93,1)">550</text>
<text font-family="Liberation Sans, Arial, sans-serif" font-weight="bold" fill="#050505" font-size="77" text-anchor="middle" transform="translate(1018,1220)">Wavelength [nm]</text>
<text font-family="Liberation Sans, Arial, sans-serif" font-weight="bold" fill="#050505" font-size="77" text-anchor="middle" transform="translate(133.5,561) rotate(-90)">Intensity [a.u.]</text>
</svg>
</body></html>
